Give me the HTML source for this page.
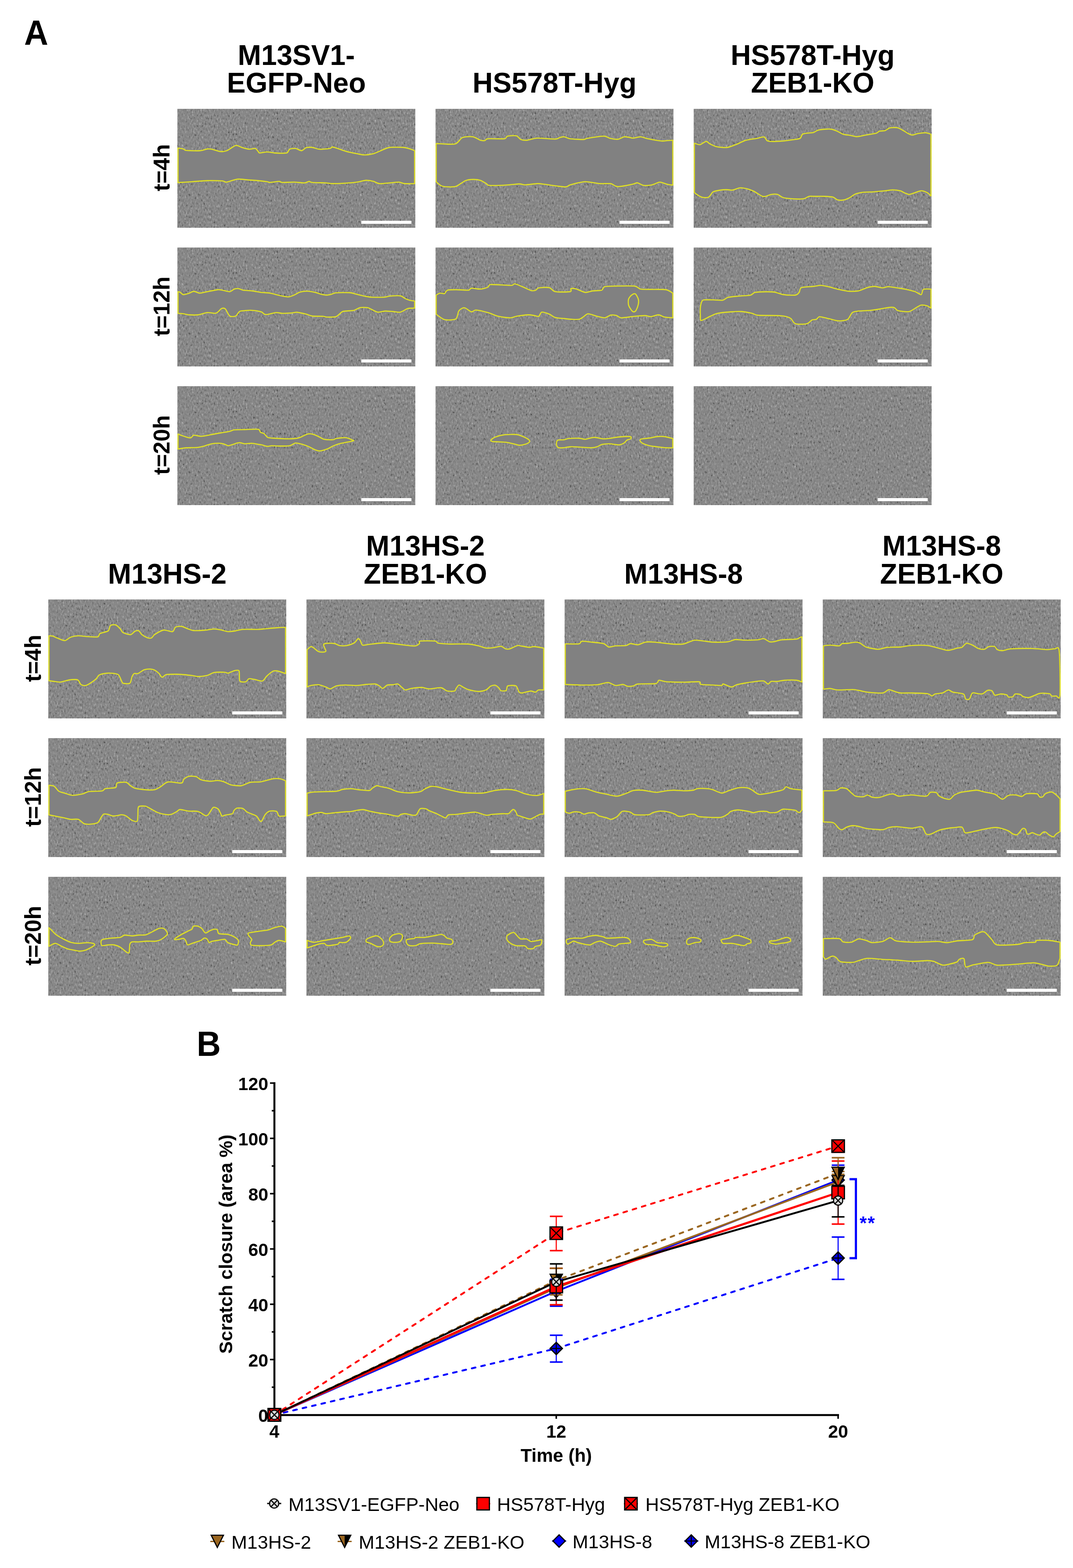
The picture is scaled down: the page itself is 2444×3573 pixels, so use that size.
<!DOCTYPE html>
<html><head><meta charset="utf-8"><title>Scratch assay</title>
<style>
html,body{margin:0;padding:0;background:#fff;}
body{width:2444px;height:3573px;overflow:hidden;}
svg{display:block;}
text{font-family:'Liberation Sans', Arial, Helvetica, sans-serif;}
</style></head><body>
<svg width="2444" height="3573" viewBox="0 0 2444 3573">
<defs>
<filter id="tex" x="0" y="0" width="1" height="1" filterUnits="objectBoundingBox" color-interpolation-filters="sRGB">
<feTurbulence type="fractalNoise" baseFrequency="0.3 0.16" numOctaves="3" seed="7" result="n"/>
<feComponentTransfer in="n" result="m">
<feFuncR type="table" tableValues="0.20 0.20 0.22 0.26 0.33 0.43 0.48 0.50 0.512 0.522 0.532 0.543 0.556 0.572 0.595 0.63 0.67 0.71 0.75 0.78 0.80"/>
<feFuncG type="table" tableValues="0.20 0.20 0.22 0.26 0.33 0.43 0.48 0.50 0.512 0.522 0.532 0.543 0.556 0.572 0.595 0.63 0.67 0.71 0.75 0.78 0.80"/>
<feFuncB type="table" tableValues="0.20 0.20 0.22 0.26 0.33 0.43 0.48 0.50 0.512 0.522 0.532 0.543 0.556 0.572 0.595 0.63 0.67 0.71 0.75 0.78 0.80"/>
<feFuncA type="table" tableValues="1 1"/>
</feComponentTransfer>
<feColorMatrix in="m" type="matrix" values="1 0 0 0 0  1 0 0 0 0  1 0 0 0 0  0 0 0 0 1"/>
</filter>
</defs>
<rect width="2444" height="3573" fill="#fff"/>

<text transform="translate(55,102) scale(1,1.045)" font-size="76" font-weight="bold">A</text>
<text transform="translate(448,2406) scale(1,1.045)" font-size="76" font-weight="bold">B</text>
<g transform="translate(404,248)">
<rect width="542" height="271" fill="#858585"/>
<rect width="542" height="271" fill="#858585" filter="url(#tex)"/>
<path d="M1.5,89.3C3.1,89.6 11.1,90.6 13.6,91.4C16.2,92.1 15.5,94.2 20.5,94.8C25.5,95.3 44.8,95.9 51.1,95.4C57.5,95 64.5,91.8 68.2,91.4C71.8,90.9 74.5,91.3 78.4,92C82.3,92.8 92.6,96.7 97.2,97.2C101.7,97.6 107.7,97.3 112.5,95.4C117.3,93.6 128.4,84.5 132.9,83.5C137.5,82.5 142.5,86.8 146.6,87.9C150.7,89.1 159.5,91.7 163.6,92C167.7,92.4 174.5,89.7 177.3,90.3C180,91 182.7,95.8 184.1,97.2C185.4,98.5 184.8,100.4 187.5,100.6C190.2,100.7 200,98.2 204.5,98.2C209.1,98.2 215.7,100.2 221.6,100.6C227.5,100.9 244.3,101.7 248.8,100.6C253.4,99.4 252.9,93.4 255.7,92C258.4,90.7 265.7,89.9 269.3,90.3C272.9,90.8 279.7,95.7 282.9,95.4C286.1,95.2 290,89.6 293.2,88.6C296.3,87.6 302.7,87.5 306.8,87.9C310.9,88.4 318.4,91.7 323.8,92C329.3,92.4 343.8,91 347.7,90.3C351.6,89.7 350.5,86.9 352.8,86.9C355.1,86.9 360.4,89 364.7,90.3C369.1,91.7 379.3,95.6 385.2,97.2C391.1,98.7 403.6,101.2 409.1,102.3C414.5,103.3 421.1,105 426.1,105C431.1,105 441.1,103.8 446.6,102.3C452,100.8 462,95.7 467,93.7C472,91.8 477.7,88.7 484.1,87.9C490.4,87.2 508.4,87.4 514.7,87.9C521.1,88.5 528.3,91 531.8,92C535.2,93 539.3,95 540.5,95.4L540.5,170.4C537.5,170.4 522.9,170.9 518.1,170.4C513.3,170 509,167.3 504.5,167C500,166.8 490,168.3 484.1,168.7C478.1,169.2 465.2,170.9 460.2,170.4C455.2,170 450.6,166.3 446.6,165.3C442.5,164.3 434.5,162.7 429.5,162.9C424.5,163.2 414.1,166.3 409.1,167C404.1,167.8 399.3,168.3 392,168.7C384.7,169.2 361.8,170.4 354.5,170.4C347.2,170.4 343.8,169.1 337.5,168.7C331.1,168.4 311.8,168.2 306.8,167.7C301.8,167.3 302.2,165.2 300,165.3C297.7,165.5 294.3,168.5 289.7,168.7C285.2,169 272.7,167.2 265.9,167C259.1,166.9 243.2,167.9 238.6,167.7C234.1,167.5 235.4,165.3 231.8,165.3C228.2,165.3 215,167.6 211.3,167.7C207.7,167.8 208.2,166.6 204.5,166C200.9,165.5 190,164.2 184.1,163.6C178.2,163.1 166.6,162.4 160.2,161.9C153.9,161.5 142.7,159.5 136.4,160.2C130,160.9 117,166.5 112.5,167C107.9,167.6 108.2,164.8 102.3,164.3C96.4,163.8 77.3,163.4 68.2,163.6C59.1,163.8 43,165.4 34.1,166C25.2,166.6 5.8,167.8 1.5,168.1L1.5,89.3Z" fill="#818181" stroke="#e0e024" stroke-width="2.6" stroke-linejoin="round"/>
<rect x="419" y="255" width="114" height="7" fill="#fff"/>
</g>
<g transform="translate(992,248)">
<rect width="542" height="271" fill="#858585"/>
<rect width="542" height="271" fill="#858585" filter="url(#tex)"/>
<path d="M1.5,79.1C7.2,79.2 36.3,81.9 44.3,80.1C52.3,78.3 55.9,67.6 61.4,65.4C66.8,63.3 79.8,62.9 85.2,63.7C90.7,64.6 98.6,70.4 102.3,71.6C105.9,72.7 110.2,72.7 112.5,72.3C114.8,71.8 113.4,68.7 119.3,68.2C125.2,67.6 150.9,68.9 156.8,68.2C162.7,67.4 160,63.3 163.6,62.4C167.3,61.5 180,60.4 184.1,61.4C188.2,62.4 191.1,68.5 194.3,69.9C197.5,71.2 202.9,72 207.9,71.6C212.9,71.2 223.2,67.2 231.8,66.8C240.4,66.4 265.9,69 272.7,68.9C279.5,68.7 280.2,66.1 282.9,65.4C285.7,64.8 290,63.4 293.2,63.7C296.3,64.1 300.9,67.4 306.8,68.2C312.7,69 332.5,70 337.5,69.9C342.5,69.8 340.2,68.3 344.3,67.5C348.4,66.7 362.7,64.4 368.2,63.7C373.6,63.1 381.1,61.9 385.2,62.4C389.3,62.9 394.7,66.6 398.8,67.5C402.9,68.4 411.8,69.7 415.9,69.2C420,68.7 426.3,64.3 429.5,63.7C432.7,63.2 437,64.4 439.7,64.8C442.5,65.2 446.3,66.9 450,66.8C453.6,66.7 462.5,63.6 467,63.7C471.6,63.9 477.7,66.9 484.1,68.2C490.4,69.4 508.8,72.7 514.7,73.3C520.6,73.8 524.9,72.5 528.4,72.3C531.8,72 538.9,71.7 540.5,71.6L540.5,173.8C538.9,173.6 532.3,173.1 528.4,172.1C524.5,171.2 515,167.3 511.3,167C507.7,166.8 503.8,169.5 501.1,170.4C498.4,171.3 494.5,173.3 490.9,173.8C487.2,174.4 477.9,175.2 473.8,174.5C469.7,173.8 463.4,169.1 460.2,168.7C457,168.3 454.1,170.6 450,171.5C445.9,172.4 434.1,174.8 429.5,175.6C425,176.3 418.6,177.3 415.9,177.3C413.1,177.3 411.3,176.5 409.1,175.6C406.8,174.6 403.4,171.1 398.8,170.4C394.3,169.8 381.3,170.9 375,170.4C368.6,170 356.1,167.6 351.1,167C346.1,166.5 343.4,165.5 337.5,166.3C331.6,167.2 312.2,171.6 306.8,173.2C301.3,174.7 302,177.8 296.6,177.9C291.1,178.1 272.7,175.4 265.9,174.5C259.1,173.7 250,172 245.4,171.5C240.9,170.9 237.3,170.2 231.8,170.4C226.3,170.7 210,173.1 204.5,173.2C199.1,173.3 196.8,171 190.9,171.1C185,171.2 169.3,173.4 160.2,173.8C151.1,174.3 128.6,175 122.7,174.5C116.8,174.1 118.6,172 115.9,170.4C113.2,168.9 106.4,164.2 102.3,162.9C98.2,161.7 89.8,160.8 85.2,160.9C80.7,161 73.2,161.6 68.2,163.6C63.2,165.7 52.7,174.3 47.7,176.2C42.7,178.1 35.2,178 30.7,177.9C26.1,177.8 17.5,177.1 13.6,175.6C9.7,174 3.1,167.6 1.5,166.3L1.5,79.1Z" fill="#818181" stroke="#e0e024" stroke-width="2.6" stroke-linejoin="round"/>
<rect x="419" y="255" width="114" height="7" fill="#fff"/>
</g>
<g transform="translate(1580,248)">
<rect width="542" height="271" fill="#858585"/>
<rect width="542" height="271" fill="#858585" filter="url(#tex)"/>
<path d="M1.5,78.4C3.1,78.9 11.1,81.8 13.6,81.8C16.2,81.8 18.4,79.4 20.5,78.4C22.5,77.4 26.7,74.1 29,74.3C31.2,74.5 34.5,78.6 37.5,80.1C40.5,81.7 47.5,84.9 51.1,85.9C54.8,86.9 61.1,87.7 64.8,87.9C68.4,88.2 74.3,88.4 78.4,87.6C82.5,86.8 90,83.9 95.4,81.8C100.9,79.7 112.9,73.5 119.3,71.6C125.7,69.7 137.7,68.5 143.2,67.5C148.6,66.5 157,63.4 160.2,64.1C163.4,64.7 164.8,70.9 167,72.3C169.3,73.6 172.3,74.2 177.3,74.3C182.3,74.4 198.6,73.7 204.5,73.3C210.4,72.8 216.6,71.7 221.6,70.9C226.6,70.1 238.4,69.3 242,67.5C245.7,65.7 244.8,59.1 248.8,57.3C252.9,55.4 268.2,55 272.7,53.9C277.2,52.7 279.3,49.7 282.9,48.7C286.6,47.7 295.9,46.7 300,46.4C304.1,46 310,45.7 313.6,46.4C317.2,47 323.6,49.6 327.2,51.1C330.9,52.7 336.8,56.7 340.9,57.9C345,59.2 353.8,59.9 357.9,60.7C362,61.4 367,63.5 371.6,63.4C376.1,63.3 386.1,60.7 392,59.7C397.9,58.6 411.8,56.7 415.9,55.6C420,54.4 420,52 422.7,51.1C425.4,50.3 433.1,50.4 436.3,49.4C439.5,48.4 442.9,44.5 446.6,43.6C450.2,42.8 459.5,42.2 463.6,43C467.7,43.7 474.1,47.7 477.2,49.4C480.4,51.1 484.7,54.2 487.5,55.6C490.2,56.9 494.5,59.6 497.7,59.7C500.9,59.7 507.2,56.9 511.3,56.2C515.4,55.6 524.5,54.3 528.4,54.5C532.3,54.8 538.9,57.5 540.5,57.9L540.5,198.4C539.3,197.4 534.8,192.4 531.8,190.9C528.8,189.3 521.8,186.8 518.1,186.8C514.5,186.8 508.1,189.8 504.5,190.9C500.9,192 494,194.9 490.9,195C487.7,195.1 483.4,192.7 480.6,191.6C477.9,190.5 474.1,187.7 470.4,186.8C466.8,185.9 457.9,184.8 453.4,184.8C448.8,184.8 442.2,186.2 436.3,186.8C430.4,187.4 415.9,188.7 409.1,189.2C402.2,189.6 390.6,189.5 385.2,190.2C379.7,190.9 372.2,192.6 368.2,194.3C364.1,196 358.2,201 354.5,202.8C350.9,204.6 344.5,207.3 340.9,207.9C337.2,208.5 330.4,208.2 327.2,207.3C324.1,206.3 321.1,202.2 317,201.1C312.9,200.1 302,199.6 296.6,199.4C291.1,199.2 280.7,199.4 276.1,199.4C271.6,199.4 265.7,198.7 262.5,199.4C259.3,200.1 255.4,203.7 252.3,204.5C249.1,205.3 244.1,205.6 238.6,205.6C233.2,205.5 216.3,204.4 211.3,203.8C206.3,203.3 203.8,202.3 201.1,201.1C198.4,199.9 194.1,195.8 190.9,195C187.7,194.2 180.9,194.4 177.3,195C173.6,195.6 166.3,198.8 163.6,199.4C160.9,200 159.1,200.2 156.8,199.4C154.5,198.6 149.3,195.2 146.6,193.6C143.9,192 139.5,189 136.4,187.5C133.2,186 126.8,183.4 122.7,182.4C118.6,181.4 110.2,179.6 105.7,180C101.1,180.3 92.7,184.6 88.6,185.1C84.5,185.6 78.6,184.1 75,184.1C71.4,184.1 65.4,184.4 61.4,185.1C57.3,185.8 48,187.1 44.3,189.2C40.7,191.3 37.3,199.4 34.1,201.1C30.9,202.8 23.6,202.3 20.5,201.8C17.3,201.3 12.8,198.5 10.2,197C7.7,195.6 2.7,191.7 1.5,190.9L1.5,78.4Z" fill="#818181" stroke="#e0e024" stroke-width="2.6" stroke-linejoin="round"/>
<rect x="419" y="255" width="114" height="7" fill="#fff"/>
</g>
<g transform="translate(404,564)">
<rect width="542" height="271" fill="#858585"/>
<rect width="542" height="271" fill="#858585" filter="url(#tex)"/>
<path d="M1.5,100.6C2.2,100.8 5.2,101.4 6.8,102.3C8.4,103.2 10.9,107.2 13.6,107.4C16.4,107.6 24.1,105 27.3,104C30.5,103 34.3,99.9 37.5,99.9C40.7,99.9 47,103.9 51.1,104C55.2,104.1 62.7,101.6 68.2,100.6C73.6,99.5 87.5,96.6 92,96.1C96.6,95.7 98.6,96.6 102.3,97.2C105.9,97.7 115.7,100.9 119.3,100.6C122.9,100.2 126.8,95.7 129.5,94.8C132.3,93.9 137,93.4 139.8,93.7C142.5,94.1 145.9,96.5 150,97.2C154.1,97.8 165,98.2 170.4,98.9C175.9,99.5 185.4,101.6 190.9,102.3C196.3,102.9 205.9,103.1 211.3,104C216.8,104.9 226.3,107.9 231.8,109.1C237.3,110.2 247.7,112.6 252.3,112.5C256.8,112.4 262.3,109.9 265.9,108.4C269.5,106.9 275.4,102.8 279.5,101.6C283.6,100.4 292,99.4 296.6,99.5C301.1,99.6 309.5,101.4 313.6,102.3C317.7,103.2 323.6,105.5 327.2,106.4C330.9,107.2 337.7,108.4 340.9,108.4C344.1,108.4 348.4,107 351.1,106.4C353.8,105.7 355.9,103.7 361.3,103.3C366.8,102.8 385.6,102.5 392,102.9C398.4,103.4 404.5,105.7 409.1,106.7C413.6,107.7 421.6,109.9 426.1,110.8C430.6,111.6 437.2,112.9 443.1,113.2C449.1,113.5 465,113.5 470.4,113.2C475.9,112.9 479.1,111.2 484.1,110.8C489,110.4 503.4,109.4 507.9,110.1C512.5,110.8 515.4,114.6 518.1,115.9C520.9,117.2 525.4,119.2 528.4,120C531.3,120.8 538.9,121.8 540.5,122L540.5,138.1C538.4,138.2 529.3,137.9 525,139.1C520.6,140.3 512.5,146.4 507.9,147.3C503.4,148.2 495.4,146.2 490.9,145.9C486.3,145.6 478.4,144.7 473.8,144.9C469.3,145.1 460.9,147.7 456.8,147.3C452.7,146.8 446.3,142.8 443.1,141.5C440,140.1 436.6,137.6 432.9,137C429.3,136.4 420,136.2 415.9,137C411.8,137.9 406.8,142.1 402.2,143.2C397.7,144.2 385.4,144.4 381.8,144.9C378.2,145.3 377.7,144.9 375,146.6C372.2,148.3 365.9,155.9 361.3,157.5C356.8,159.1 345,158.6 340.9,158.5C336.8,158.4 335.2,157.1 330.7,156.8C326.1,156.5 311.8,156.8 306.8,156.1C301.8,155.4 297.7,152.8 293.2,151.7C288.6,150.6 277.2,147.9 272.7,147.6C268.2,147.3 263.6,149 259.1,149.3C254.5,149.6 243.2,150.1 238.6,150C234.1,149.9 229.5,147.9 225,148.3C220.4,148.6 208.2,152.3 204.5,152.7C200.9,153.2 199.5,152.5 197.7,151.7C195.9,150.9 194.5,147.7 190.9,146.6C187.3,145.4 175.4,143.5 170.4,143.2C165.4,142.8 157.3,143.5 153.4,143.9C149.5,144.2 144.2,144.3 141.5,145.9C138.7,147.5 135.9,154.8 132.9,156.1C130,157.5 122.5,158.3 119.3,156.1C116.1,153.9 111.6,142 109.1,139.8C106.6,137.5 102.8,138.1 100.6,139.1C98.3,140.1 94.1,145.8 92,147.3C90,148.7 88.4,149.9 85.2,150C82,150.1 73.2,147.8 68.2,148.3C63.2,148.7 53.2,152.7 47.7,153.4C42.3,154.1 31.8,153.7 27.3,153.4C22.7,153.1 17.1,151.5 13.6,151C10.2,150.6 3.1,150.1 1.5,150L1.5,100.6Z" fill="#818181" stroke="#e0e024" stroke-width="2.6" stroke-linejoin="round"/>
<rect x="419" y="255" width="114" height="7" fill="#fff"/>
</g>
<g transform="translate(992,564)">
<rect width="542" height="271" fill="#858585"/>
<rect width="542" height="271" fill="#858585" filter="url(#tex)"/>
<path d="M1.5,108.4C2.7,107.8 7.7,104.4 10.2,104C12.8,103.5 18.2,105.9 20.5,105C22.7,104.1 23.6,98.3 27.3,97.2C30.9,96 41.4,96.1 47.7,96.1C54.1,96.1 70.4,97.6 75,97.2C79.5,96.7 78.2,93 81.8,92.7C85.4,92.4 97.3,95.1 102.3,94.8C107.3,94.4 116.4,91.7 119.3,90.3C122.3,89 120.3,85.2 124.4,84.5C128.5,83.9 143.4,85 150,85.2C156.6,85.4 169.8,86.6 173.8,86.2C177.9,85.9 177.5,82.4 180.7,82.8C183.8,83.2 192.7,87.3 197.7,89.3C202.7,91.4 214.1,97.1 218.2,98.2C222.3,99.2 226.1,98 228.4,97.2C230.7,96.3 231.1,92.8 235.2,92C239.3,91.3 254.1,90.2 259.1,91.4C264.1,92.5 266.3,99.3 272.7,100.6C279.1,101.8 302,101.5 306.8,100.6C311.6,99.7 306.7,94.6 308.5,93.7C310.3,92.9 316.1,93.3 320.4,94.4C324.7,95.6 335.9,101.7 340.9,102.3C345.9,102.9 352.9,99.5 357.9,98.9C362.9,98.2 374.7,98.4 378.4,97.2C382,95.9 381.1,90.5 385.2,89.3C389.3,88.1 400,88.1 409.1,87.9C418.1,87.8 445.6,87 453.4,87.9C461.1,88.9 462,93.8 467,94.8C472,95.8 483.1,95.3 490.9,95.4C498.6,95.6 518.3,95 525,96.1C531.6,97.3 538.4,102.9 540.5,104L540.5,160.2C538,160 525.9,159.4 521.5,158.5C517.2,157.6 512,153.5 507.9,153.4C503.8,153.3 495,157.3 490.9,157.5C486.8,157.7 482.2,155.2 477.2,155.1C472.2,155 460.6,156.1 453.4,156.8C446.1,157.5 428.1,160.4 422.7,160.2C417.2,160 415.6,155.9 412.5,155.1C409.3,154.3 402.5,153.4 398.8,154.1C395.2,154.8 389.3,159.9 385.2,160.2C381.1,160.6 373.2,158 368.2,156.8C363.2,155.6 351.8,150.9 347.7,151C343.6,151.1 340.2,155.8 337.5,157.5C334.7,159.2 330.9,162.8 327.2,163.6C323.6,164.4 314.7,163.8 310.2,163.6C305.7,163.4 298.2,162.5 293.2,161.9C288.2,161.4 277.2,160.9 272.7,159.5C268.2,158.2 263.2,153.3 259.1,151.7C255,150.1 245.2,146.6 242,147.3C238.8,147.9 237.5,155.8 235.2,156.8C232.9,157.9 228.2,155.6 225,155.1C221.8,154.6 216.8,153.2 211.3,153.4C205.9,153.6 189.5,155.9 184.1,156.8C178.6,157.7 175.9,160.2 170.4,160.2C165,160.2 150,158.4 143.2,156.8C136.4,155.2 126.1,150.2 119.3,148.3C112.5,146.4 97,142.7 92,142.5C87,142.3 85,147.2 81.8,146.6C78.6,146 70.9,139.2 68.2,138.1C65.4,136.9 63.4,137.1 61.4,138.1C59.3,139 54.9,141.6 52.8,144.9C50.8,148.2 50.3,160.4 46,162.9C41.7,165.5 26.4,165.8 20.5,164.3C14.5,162.8 4,153.7 1.5,152L1.5,108.4Z" fill="#818181" stroke="#e0e024" stroke-width="2.6" stroke-linejoin="round"/>
<path d="M446.6,108.4C448.6,106.8 453,104.4 455.1,105.7C457.1,106.9 461,114.4 461.9,117.6C462.8,120.8 462.6,126.1 461.9,129.5C461.2,132.9 458.1,140.9 456.8,143.2C455.4,145.4 453,146.6 451.7,146.6C450.3,146.6 448.1,145.2 446.6,143.2C445,141.1 440.6,134.6 439.7,131.2C438.8,127.8 438.8,120.6 439.7,117.6C440.6,114.6 444.5,110 446.6,108.4Z" fill="#818181" stroke="#e0e024" stroke-width="2.6" stroke-linejoin="round"/>
<rect x="419" y="255" width="114" height="7" fill="#fff"/>
</g>
<g transform="translate(1580,564)">
<rect width="542" height="271" fill="#858585"/>
<rect width="542" height="271" fill="#858585" filter="url(#tex)"/>
<path d="M18.7,122.7C19.9,120.4 20.5,119.8 23.9,119.3C27.3,118.9 38.6,119.2 44.3,119.3C50,119.4 61.9,120.8 66.5,120C71,119.2 73.6,114.7 78.4,113.5C83.2,112.3 95.4,111.5 102.3,110.8C109.1,110.1 124.5,109.5 129.5,108.4C134.5,107.3 135.2,103.3 139.8,102.3C144.3,101.3 157.7,101 163.6,100.9C169.5,100.8 178.6,100.7 184.1,101.6C189.5,102.4 198.2,106.5 204.5,107.4C210.9,108.3 227,109.1 231.8,108.4C236.6,107.7 238.5,104.5 240.3,102.3C242.1,100 241.1,93.2 245.4,91.4C249.8,89.5 266.8,89.3 272.7,88.6C278.6,87.9 285.2,86.2 289.7,86.2C294.3,86.3 301.8,88.2 306.8,89.3C311.8,90.4 321.3,93.4 327.2,94.8C333.2,96.1 344.7,99 351.1,99.5C357.5,100.1 369.1,99.9 375,98.9C380.9,97.8 390.4,92.7 395.4,91.4C400.4,90 407.9,88.5 412.5,88.6C417,88.7 425.4,91.9 429.5,92C433.6,92.1 438.6,89.3 443.1,89.3C447.7,89.3 458.1,91.2 463.6,92C469.1,92.9 478.6,94.3 484.1,95.4C489.5,96.6 500,99 504.5,100.6C509,102.2 515.6,108.1 518.1,107.4C520.6,106.7 520.3,97.1 523.3,95.4C526.2,93.8 538.2,94.9 540.5,94.8L540.5,138.1C539.3,137.4 534.8,133.9 531.8,132.9C528.8,132 521.3,130.8 518.1,131.2C515,131.7 511.5,134.4 507.9,136.4C504.3,138.3 495.9,144.8 490.9,145.9C485.9,147 474.1,145.2 470.4,144.9C466.8,144.5 465.4,144.2 463.6,143.2C461.8,142.1 459.1,137.9 456.8,137C454.5,136.1 451.1,135.9 446.6,136.4C442,136.8 428.6,139.5 422.7,140.4C416.8,141.4 408.6,142.6 402.2,143.2C395.9,143.8 380.4,144.2 375,144.9C369.5,145.6 364.5,145.8 361.3,148.3C358.2,150.8 354.3,161.1 351.1,163.6C347.9,166.1 341.1,166.7 337.5,167C333.8,167.4 328.8,167.3 323.8,166.3C318.8,165.4 305,161.4 300,160.2C295,159.1 289.1,157.4 286.3,157.8C283.6,158.3 281.8,162.6 279.5,163.6C277.2,164.6 272.2,164 269.3,165.3C266.3,166.7 262.4,172.7 257.4,173.8C252.4,175 236.6,175.4 231.8,173.8C227,172.3 224.3,164.1 221.6,161.9C218.8,159.7 215.4,158.4 211.3,157.5C207.3,156.6 199.5,155.5 190.9,155.1C182.3,154.7 154.3,155.1 146.6,154.4C138.9,153.7 137.9,151.1 132.9,150C127.9,148.9 115.4,146.4 109.1,145.9C102.7,145.4 92.5,146 85.2,146.6C77.9,147.1 60.9,148.6 54.5,150C48.2,151.4 42.5,154.6 37.5,156.8C32.5,159 20,166.3 17,166.3C14.1,166.3 15.6,160.8 15.3,156.8C15.1,152.8 14.9,140.9 15.3,136.4C15.8,131.8 17.6,125 18.7,122.7Z" fill="#818181" stroke="#e0e024" stroke-width="2.6" stroke-linejoin="round"/>
<rect x="419" y="255" width="114" height="7" fill="#fff"/>
</g>
<g transform="translate(404,880)">
<rect width="542" height="271" fill="#858585"/>
<rect width="542" height="271" fill="#858585" filter="url(#tex)"/>
<path d="M1.5,109.1C2.7,109.5 7.7,111.6 10.2,112.5C12.8,113.4 17.7,115.2 20.5,115.9C23.2,116.6 28.4,118.1 30.7,117.6C33,117.1 34.3,112.3 37.5,111.8C40.7,111.4 49.5,114.3 54.5,114.2C59.5,114.1 69.1,111.8 75,110.8C80.9,109.7 92.9,107.4 98.9,106.4C104.8,105.3 115.2,103.9 119.3,102.9C123.4,102 125,100.1 129.5,99.5C134.1,99 146.1,99 153.4,98.9C160.7,98.7 179.3,97.4 184.1,98.2C188.8,99 187.4,103.6 189.2,105C191,106.4 195.4,106.8 197.7,108.4C200,110 203.1,115.6 206.2,116.9C209.4,118.3 215.4,118.2 221.6,118.6C227.7,119 245.4,120 252.3,120C259.1,120 268.6,119.3 272.7,118.6C276.8,118 279.7,116.5 282.9,115.2C286.1,113.9 293.4,109.9 296.6,109.1C299.7,108.3 303.6,108.4 306.8,109.1C310,109.8 316.8,112.6 320.4,114.2C324.1,115.8 329.5,120 334.1,121C338.6,122.1 350.9,122.3 354.5,122C358.2,121.8 358.6,119.9 361.3,119.3C364.1,118.7 371.8,117.8 375,117.6C378.2,117.4 381.8,116.8 385.2,117.6C388.6,118.4 398.5,122.5 400.5,123.4C402.6,124.3 402.6,123.8 400.5,124.4C398.5,125 389.5,126.9 385.2,127.8C380.9,128.7 372.2,130.1 368.2,131.2C364.1,132.4 358.2,134.8 354.5,136.4C350.9,137.9 345,141.7 340.9,143.2C336.8,144.7 327.5,147.4 323.8,147.6C320.2,147.8 316.8,146.1 313.6,144.9C310.4,143.6 303.6,139.6 300,138.1C296.3,136.5 290.4,134.1 286.3,132.9C282.2,131.8 273.4,129.2 269.3,129.5C265.2,129.9 260.7,134.8 255.7,135.7C250.7,136.6 237.3,136.4 231.8,136.4C226.3,136.4 218.4,135.6 214.8,135.7C211.1,135.8 207.7,137.3 204.5,137C201.3,136.8 195.4,134.5 190.9,133.6C186.3,132.7 175.4,130.5 170.4,130.2C165.4,129.9 157,131.4 153.4,131.2C149.8,131.1 145.4,129.1 143.2,128.9C140.9,128.6 138.6,129 136.4,129.5C134.1,130.1 128.9,132.1 126.1,132.9C123.4,133.8 118.2,135.7 115.9,135.7C113.6,135.7 111.4,133.7 109.1,132.9C106.8,132.2 102.9,130.4 98.9,130.2C94.8,130 83.4,130.4 78.4,131.2C73.4,132.1 65.9,135.2 61.4,136.4C56.8,137.5 49.8,139.2 44.3,139.8C38.9,140.3 26.2,140 20.5,140.4C14.7,140.9 4,142.8 1.5,143.2L1.5,109.1Z" fill="#818181" stroke="#e0e024" stroke-width="2.6" stroke-linejoin="round"/>
<rect x="419" y="255" width="114" height="7" fill="#fff"/>
</g>
<g transform="translate(992,880)">
<rect width="542" height="271" fill="#858585"/>
<rect width="542" height="271" fill="#858585" filter="url(#tex)"/>
<path d="M126.1,122.7C127,121.4 132.3,117.5 136.4,115.9C140.4,114.3 150.4,111.6 156.8,110.8C163.2,110 178.6,109.6 184.1,110.1C189.5,110.6 194.1,112.7 197.7,114.2C201.3,115.6 209.2,119.3 211.3,121C213.5,122.7 215,125.3 214.1,126.8C213.2,128.3 207.6,131.2 204.5,132.3C201.4,133.3 194.5,134.8 190.9,134.6C187.3,134.5 181.3,132.1 177.3,131.2C173.2,130.3 164.8,128.4 160.2,127.8C155.7,127.2 147.3,127 143.2,126.8C139.1,126.6 131.8,126.7 129.5,126.1C127.3,125.6 125.2,124.1 126.1,122.7Z" fill="#818181" stroke="#e0e024" stroke-width="2.6" stroke-linejoin="round"/>
<path d="M277.8,123.4C280.2,121.9 289.7,122.6 293.2,122C296.6,121.5 298.8,119.8 303.4,119.3C307.9,118.9 322.2,118.4 327.2,118.6C332.2,118.9 336.3,121.3 340.9,121C345.4,120.7 355.9,116.7 361.3,116.6C366.8,116.4 376.8,119.7 381.8,120C386.8,120.3 394.3,119.2 398.8,118.6C403.4,118.1 410,116.4 415.9,115.9C421.8,115.4 439.3,114.3 443.1,114.9C447,115.4 445.8,118.9 444.8,120C443.9,121 438.4,121.4 436.3,122.7C434.3,124 431.8,128.1 429.5,129.5C427.2,131 422,133.2 419.3,133.6C416.6,134.1 412.2,133.3 409.1,132.9C405.9,132.6 399.5,131.2 395.4,131.2C391.3,131.2 382,132 378.4,132.9C374.7,133.9 371.3,137.1 368.2,138.1C365,139.1 360,140.4 354.5,140.4C349.1,140.5 333.6,139.1 327.2,138.7C320.9,138.4 311.8,137.8 306.8,138.1C301.8,138.3 293.4,140.2 289.7,140.4C286.1,140.7 281.4,140.8 279.5,139.8C277.6,138.8 275.7,135.1 275.4,132.9C275.2,130.8 275.5,124.9 277.8,123.4Z" fill="#818181" stroke="#e0e024" stroke-width="2.6" stroke-linejoin="round"/>
<path d="M467,121C468.5,120.2 474.1,119.8 477.2,119.3C480.4,118.9 487.2,118.2 490.9,117.6C494.5,117 500.4,115.2 504.5,114.9C508.6,114.5 516.7,114.3 521.5,114.9C526.3,115.5 538,118.7 540.5,119.3L540.5,140.4C538.4,140.4 529.8,140.8 525,140.4C520.2,140.1 509.5,138.7 504.5,138.1C499.5,137.4 491.5,136.6 487.5,135.7C483.4,134.8 476.6,132.6 473.8,131.2C471,129.9 467.2,126.8 466.3,125.4C465.4,124.1 465.6,121.8 467,121Z" fill="#818181" stroke="#e0e024" stroke-width="2.6" stroke-linejoin="round"/>
<rect x="419" y="255" width="114" height="7" fill="#fff"/>
</g>
<g transform="translate(1580,880)">
<rect width="542" height="271" fill="#858585"/>
<rect width="542" height="271" fill="#858585" filter="url(#tex)"/>
<rect x="419" y="255" width="114" height="7" fill="#fff"/>
</g>
<g transform="translate(110,1366)">
<rect width="542" height="271" fill="#858585"/>
<rect width="542" height="271" fill="#858585" filter="url(#tex)"/>
<path d="M1.5,82.8C2.7,82.9 7.7,82.8 10.2,83.5C12.8,84.2 16.8,86.6 20.5,87.9C24.1,89.3 33.4,94 37.5,93.7C41.6,93.5 47,87.4 51.1,85.9C55.2,84.4 63.2,83 68.2,82.8C73.2,82.7 82.7,84.2 88.6,84.5C94.5,84.9 108.6,86.1 112.5,85.2C116.4,84.3 114.4,79.5 117.6,77.7C120.8,75.9 133.2,74 136.4,71.6C139.5,69.2 139.2,61.5 141.5,59.7C143.7,57.8 150.4,57 153.4,57.9C156.4,58.9 161.4,64.1 163.6,66.5C165.9,68.8 167.3,73.9 170.4,75.7C173.6,77.5 183.8,80.6 187.5,80.1C191.1,79.7 195.2,73.4 197.7,72.3C200.2,71.1 204.2,70.5 206.2,71.6C208.3,72.6 210.6,78.1 213.1,80.1C215.6,82.2 222,85.9 225,86.9C227.9,87.9 232.9,88.5 235.2,87.6C237.5,86.7 238.4,82.5 242,80.1C245.7,77.7 257,70.8 262.5,69.9C267.9,69 279.3,74.2 282.9,73.3C286.6,72.4 287,64.7 289.7,63.1C292.5,61.5 299.7,60.9 303.4,61.4C307,61.8 313.4,65.2 317,66.5C320.7,67.7 325.2,70.4 330.7,70.9C336.1,71.4 351.6,70.4 357.9,69.9C364.3,69.4 373.4,67.2 378.4,67.2C383.4,67.2 391.3,69.1 395.4,69.9C399.5,70.7 405,73.1 409.1,73.3C413.1,73.5 421.6,72.3 426.1,71.6C430.6,70.9 436.3,68.6 443.1,68.2C450,67.7 470,68.4 477.2,68.2C484.5,67.9 491.3,67 497.7,66.5C504,65.9 519.2,64.4 525,64.1C530.7,63.7 538.4,63.8 540.5,63.7L540.5,168.7C538,168 525.4,163.6 521.5,162.9C517.7,162.3 514.5,162.1 511.3,163.6C508.1,165.2 500.9,171.6 497.7,174.5C494.5,177.5 491.1,184.7 487.5,185.8C483.8,186.8 474.5,183.1 470.4,182.4C466.3,181.7 459.5,180 456.8,180.7C454.1,181.3 452.7,186.8 450,187.5C447.2,188.2 438.4,189.1 436.3,185.8C434.3,182.5 436,166.1 434.6,162.9C433.3,159.8 428.6,161.6 426.1,161.9C423.6,162.2 418.1,164.5 415.9,165.3C413.6,166.1 410.9,168 409.1,168.1C407.2,168.1 406.3,166.2 402.2,166C398.1,165.8 383.8,165.4 378.4,166.3C372.9,167.3 366.3,171.9 361.3,173.2C356.3,174.4 345.4,175.6 340.9,175.6C336.3,175.6 331.8,173.8 327.2,173.2C322.7,172.6 311.3,171.5 306.8,171.1C302.2,170.8 298.2,170.4 293.2,170.4C288.2,170.4 273.8,170.2 269.3,171.1C264.8,172 261.3,177.6 259.1,177.3C256.8,176.9 254.5,170.9 252.3,168.7C250,166.6 244.8,162.3 242,160.9C239.3,159.5 235,158.6 231.8,158.5C228.6,158.4 221.8,158.9 218.2,160.2C214.5,161.6 207.5,167.6 204.5,168.7C201.6,169.9 197.8,167.8 196,168.7C194.2,169.6 192.3,172.6 190.9,175.6C189.5,178.5 188.5,188.8 185.8,190.9C183.1,192.9 172.9,191.6 170.4,190.9C167.9,190.2 168.4,188.3 167,185.8C165.7,183.3 162.5,174.4 160.2,172.1C157.9,169.9 153.6,169.3 150,168.7C146.4,168.2 137.5,167.6 132.9,168.1C128.4,168.5 119.1,170.5 115.9,172.1C112.7,173.8 111.8,178.2 109.1,180.7C106.4,183.2 98.6,188.8 95.4,190.9C92.3,192.9 87.9,195.6 85.2,196C82.5,196.5 77.3,195.9 75,194.3C72.7,192.7 70,185.7 68.2,184.1C66.4,182.5 64.1,182.5 61.4,182.4C58.6,182.3 52.3,182.6 47.7,183.4C43.2,184.2 31.8,187.7 27.3,188.2C22.7,188.6 17.1,187.2 13.6,186.8C10.2,186.4 3.1,185.3 1.5,185.1L1.5,82.8Z" fill="#818181" stroke="#e0e024" stroke-width="2.6" stroke-linejoin="round"/>
<rect x="419" y="255" width="114" height="7" fill="#fff"/>
</g>
<g transform="translate(698,1366)">
<rect width="542" height="271" fill="#858585"/>
<rect width="542" height="271" fill="#858585" filter="url(#tex)"/>
<path d="M1.5,114.2C2.7,113.3 8.2,107.8 10.2,107.4C12.3,106.9 14.8,109.3 17,110.8C19.3,112.3 24.5,117.4 27.3,118.6C30,119.9 35.2,120.1 37.5,120C39.8,119.9 43.9,119.1 44.3,117.6C44.8,116.1 41.6,111.1 40.9,109.1C40.2,107 38.3,103.5 39.2,102.3C40.1,101 44.3,100.1 47.7,99.9C51.1,99.7 61.1,99.9 64.8,100.6C68.4,101.2 71.4,104.4 75,105C78.6,105.6 87.5,105.8 92,105C96.6,104.2 105.7,100.9 109.1,98.9C112.5,96.8 115.8,90 117.6,89.3C119.4,88.6 121.4,91.8 122.7,93.7C124.1,95.7 125.1,102.8 127.8,104C130.6,105.1 136.6,102.9 143.2,102.3C149.8,101.6 169.1,98.9 177.3,98.9C185.4,98.8 196.3,100.7 204.5,101.6C212.7,102.5 232.7,105.1 238.6,105.7C244.5,106.2 246.3,106.4 248.8,105.7C251.3,105 256,102 257.4,100.6C258.7,99.1 254.3,95.5 259.1,94.8C263.8,94 287.7,94.1 293.2,94.8C298.6,95.4 295.4,98.6 300,99.5C304.5,100.4 318.2,101.3 327.2,101.6C336.3,101.9 359.5,101 368.2,101.6C376.8,102.1 386.6,104.4 392,105.7C397.5,106.9 404.5,110.2 409.1,110.8C413.6,111.3 421.6,110.3 426.1,109.8C430.6,109.2 439.5,106.3 443.1,106.7C446.8,107.1 450.6,111.7 453.4,112.5C456.1,113.3 460,113.5 463.6,112.5C467.2,111.5 477,105.8 480.6,105C484.3,104.2 487.2,105.8 490.9,106.4C494.5,106.9 504.3,108.9 507.9,109.1C511.5,109.2 513.8,107.2 518.1,107.4C522.5,107.6 537.5,110.3 540.5,110.8L540.5,206.2C538.9,206.2 530.9,205.6 528.4,206.2C525.8,206.9 523.8,211 521.5,211.3C519.3,211.7 515.4,208.4 511.3,208.6C507.2,208.8 494.5,212.8 490.9,213.1C487.2,213.3 485.9,212.8 484.1,210.7C482.2,208.5 480.6,198.8 477.2,197C473.8,195.2 461.4,195.7 458.5,197C455.5,198.4 457.1,205.8 455.1,207.3C453,208.7 445.4,208.8 443.1,207.9C440.9,207.1 439.8,202.8 438,201.1C436.2,199.4 432,195.8 429.5,195.3C427,194.9 422,196.3 419.3,197.7C416.6,199.2 412.7,204.6 409.1,206.2C405.4,207.8 397.5,209.8 392,209.6C386.6,209.5 372.7,206.4 368.2,205.2C363.6,204 360.7,201.8 357.9,200.4C355.2,199.1 350,194.7 347.7,195C345.4,195.3 342.2,201 340.9,202.8C339.5,204.6 340.2,207.8 337.5,208.6C334.7,209.4 324.5,209.6 320.4,208.6C316.3,207.6 312.2,201.8 306.8,201.1C301.3,200.5 285.4,203.9 279.5,203.8C273.6,203.8 267.9,200.6 262.5,200.4C257,200.3 243.6,202.1 238.6,202.8C233.6,203.6 227.7,206.5 225,206.2C222.3,206 220.4,202.9 218.2,201.1C215.9,199.3 210.7,193.5 207.9,192.6C205.2,191.7 200.9,194 197.7,194.3C194.5,194.6 187.3,193.8 184.1,195C180.9,196.1 176.1,202.5 173.8,202.8C171.6,203.2 169.3,199.1 167,197.7C164.8,196.3 160.9,193.1 156.8,192.6C152.7,192.1 141.8,193.2 136.4,193.6C130.9,194.1 122.3,195.8 115.9,196C109.5,196.2 95,194.8 88.6,195C82.3,195.1 72.7,195.8 68.2,197C63.6,198.2 57.7,203.5 54.5,203.8C51.4,204.2 48,200.7 44.3,199.4C40.7,198.1 31.8,194.8 27.3,194.3C22.7,193.8 13.7,195.3 10.2,196C6.8,196.7 2.7,199 1.5,199.4L1.5,114.2Z" fill="#818181" stroke="#e0e024" stroke-width="2.6" stroke-linejoin="round"/>
<rect x="419" y="255" width="114" height="7" fill="#fff"/>
</g>
<g transform="translate(1286,1366)">
<rect width="542" height="271" fill="#858585"/>
<rect width="542" height="271" fill="#858585" filter="url(#tex)"/>
<path d="M1.5,101.2C5.6,101.2 27.4,102 32.4,101.2C37.4,100.5 35.3,96 39.2,95.4C43.1,94.9 54.8,96.5 61.4,97.2C67.9,97.8 83.4,99.1 88.6,100.6C93.9,102.1 96.9,107.7 100.6,108.4C104.2,109.1 110.7,106.1 115.9,105.7C121.1,105.2 135.2,105.7 139.8,105C144.3,104.3 146.4,100.8 150,100.6C153.6,100.3 162.5,103.7 167,103.3C171.6,102.8 179.1,98 184.1,97.2C189.1,96.3 196.3,96.6 204.5,97.2C212.7,97.7 236.8,101 245.4,101.6C254.1,102.2 264.3,102.2 269.3,101.6C274.3,101 279.3,98.3 282.9,97.2C286.6,96 292,93 296.6,92.7C301.1,92.4 311.6,94.2 317,94.8C322.5,95.4 330.2,96.9 337.5,97.2C344.7,97.4 364.7,97.2 371.6,96.5C378.4,95.7 383.6,91.9 388.6,91.4C393.6,90.9 402.2,92.6 409.1,92.7C415.9,92.8 433.8,92.5 439.7,92C445.6,91.6 449.7,88.7 453.4,89.3C457,89.9 463.8,95.6 467,96.5C470.2,97.4 473.6,96.7 477.2,96.1C480.9,95.5 487.5,92.8 494.3,92C501.1,91.3 522.9,91 528.4,90.3C533.8,89.7 533.6,87.6 535.2,86.9C536.8,86.2 539.8,85.4 540.5,85.2L540.5,188.2C538.9,187.6 533.6,184.6 528.4,184.1C523.1,183.5 507,183.7 501.1,184.1C495.2,184.4 488.1,186.4 484.1,186.8C480,187.2 473.1,186 470.4,186.8C467.7,187.6 465.9,192.7 463.6,192.6C461.3,192.5 457,186.6 453.4,185.8C449.7,185 442.2,186.1 436.3,186.8C430.4,187.5 415,189.9 409.1,190.9C403.1,191.9 395.9,193.2 392,194.3C388.1,195.4 384.2,199.6 380.1,199.4C376,199.2 364.3,193.1 361.3,192.6C358.4,192.1 361.1,195.7 357.9,196C354.7,196.3 343.8,195.3 337.5,195C331.1,194.7 314.3,194.6 310.2,193.6C306.1,192.6 311.8,188.2 306.8,187.5C301.8,186.8 282.7,188.5 272.7,188.5C262.7,188.5 239.5,188.1 231.8,187.5C224.1,186.9 217.9,183.5 214.8,184.1C211.6,184.6 214.3,190.4 207.9,191.6C201.6,192.7 173.8,191.9 167,192.6C160.2,193.3 160,196.3 156.8,197C153.6,197.7 146.4,198.2 143.2,197.7C140,197.3 136.6,193.8 132.9,193.6C129.3,193.4 120.4,196.6 115.9,196C111.4,195.4 104.3,189.4 98.9,189.2C93.4,189 82.7,193.5 75,194.3C67.3,195.1 50.7,195.1 40.9,195C31.1,194.9 6.8,193.8 1.5,193.6L1.5,101.2Z" fill="#818181" stroke="#e0e024" stroke-width="2.6" stroke-linejoin="round"/>
<rect x="419" y="255" width="114" height="7" fill="#fff"/>
</g>
<g transform="translate(1874,1366)">
<rect width="542" height="271" fill="#858585"/>
<rect width="542" height="271" fill="#858585" filter="url(#tex)"/>
<path d="M1.5,105.7C3.6,105.4 12.2,104 17,104C21.8,104 33.9,106.1 37.5,105.7C41.1,105.2 41.6,101.3 44.3,100.6C47,99.8 53.9,100.3 57.9,99.9C62,99.4 71.4,97.2 75,97.2C78.6,97.1 82,98 85.2,99.5C88.4,101 93.4,106.5 98.9,108.4C104.3,110.3 119.8,113.4 126.1,113.5C132.5,113.6 139.8,109.8 146.6,109.1C153.4,108.4 170,108.9 177.3,108.4C184.5,107.9 192.9,105.4 201.1,105C209.3,104.5 229.5,104 238.6,105C247.7,106 262.9,111 269.3,112.5C275.7,113.9 281.3,116.1 286.3,115.9C291.3,115.7 302.7,111.7 306.8,110.8C310.9,109.9 314.3,110.5 317,109.1C319.7,107.6 324.1,100.6 327.2,99.9C330.4,99.2 337.2,102.4 340.9,104C344.5,105.6 350.9,110.5 354.5,111.8C358.2,113.1 365,114.1 368.2,113.5C371.3,112.9 375.2,108.2 378.4,107.4C381.6,106.6 389.5,106.5 392,107.4C394.5,108.3 394.9,113 397.1,114.2C399.4,115.4 404.7,116.8 409.1,116.6C413.4,116.4 420.4,113.1 429.5,112.5C438.6,111.9 466.3,111.6 477.2,111.8C488.1,112 504.5,114.1 511.3,114.2C518.1,114.3 524.7,112 528.4,112.5C532,112.9 537,103.5 538.6,117.6C540.2,131.7 541.2,204.5 540.3,218.2C539.4,231.8 534.3,219.6 531.8,219.9C529.3,220.1 523.6,220.5 521.5,219.9C519.5,219.2 520.1,215.5 516.4,214.8C512.8,214 500.4,212.9 494.3,214.1C488.1,215.2 475.4,222.3 470.4,223.3C465.4,224.3 459.5,222.5 456.8,221.6C454.1,220.7 452.5,217.3 450,216.5C447.5,215.6 440.3,214.8 438,215.4C435.8,216.1 435,220.7 432.9,221.6C430.9,222.5 424.5,222.8 422.7,222.3C420.9,221.7 421.6,218.4 419.3,217.5C417,216.6 409.3,215.3 405.6,215.4C402,215.5 394.7,219.2 392,218.2C389.3,217.2 387.5,209.4 385.2,207.9C382.9,206.5 377.7,206.3 375,207.3C372.2,208.2 367.5,213.8 364.7,214.8C362,215.8 357.7,215 354.5,214.8C351.3,214.5 343.6,211.5 340.9,213.1C338.2,214.6 336.1,224.9 334.1,226.7C332,228.5 327.4,228.2 325.5,226.7C323.7,225.2 324.3,217.5 320.4,215.4C316.6,213.4 301.1,212.6 296.6,211.3C292,210.1 289.5,206 286.3,206.2C283.2,206.5 276.8,211.8 272.7,213.1C268.6,214.3 258.8,214.5 255.7,215.4C252.5,216.3 251.1,220 248.8,219.9C246.6,219.8 244.5,215.7 238.6,214.8C232.7,213.8 212.7,213.3 204.5,213.1C196.3,212.8 182.7,213.5 177.3,213.1C171.8,212.6 167.3,210.6 163.6,209.6C160,208.6 153.6,205.1 150,205.6C146.4,206 142.7,212.3 136.4,213.1C130,213.8 109.1,212 102.3,211.3C95.4,210.7 89.8,208.8 85.2,207.9C80.7,207.1 75,205.4 68.2,205.2C61.4,205 40.9,206.6 34.1,206.2C27.3,205.9 21.4,203.1 17,202.8C12.7,202.6 3.6,204.3 1.5,204.5L1.5,105.7Z" fill="#818181" stroke="#e0e024" stroke-width="2.6" stroke-linejoin="round"/>
<rect x="419" y="255" width="114" height="7" fill="#fff"/>
</g>
<g transform="translate(110,1682)">
<rect width="542" height="271" fill="#858585"/>
<rect width="542" height="271" fill="#858585" filter="url(#tex)"/>
<path d="M1.5,107.4C3.1,107.7 10.7,107.9 13.6,109.8C16.6,111.6 20.7,118.9 23.9,121C27,123.1 33.4,124.2 37.5,125.4C41.6,126.7 49.1,130 54.5,130.2C60,130.4 73.4,128.3 78.4,127.1C83.4,126 86.1,122.6 92,121.7C97.9,120.8 117.7,121.2 122.7,120.3C127.7,119.5 125.4,116.3 129.5,115.2C133.6,114.2 149.8,114.2 153.4,112.5C157,110.8 153.6,103.9 156.8,102.3C160,100.7 173.4,99.9 177.3,100.6C181.1,101.2 183.1,105.6 185.8,107.4C188.5,109.2 192.9,112.8 197.7,114.2C202.5,115.6 215.7,117.1 221.6,117.6C227.5,118.1 237.5,118.5 242,117.6C246.6,116.7 251.6,113.1 255.7,110.8C259.8,108.4 266.3,101 272.7,99.9C279.1,98.7 298.6,103.1 303.4,102.3C308.2,101.4 306.2,95.8 308.5,93.7C310.8,91.7 316.6,87.7 320.4,86.9C324.3,86.2 333.8,86.9 337.5,87.9C341.1,89 343.6,93.4 347.7,94.8C351.8,96.1 363.2,97.9 368.2,98.2C373.2,98.4 381.1,96.4 385.2,96.5C389.3,96.6 394.7,97.5 398.8,98.9C402.9,100.2 410.4,105.1 415.9,106.4C421.3,107.6 433.8,109.2 439.7,108.4C445.6,107.6 454.3,101.7 460.2,100.6C466.1,99.4 477.2,100.6 484.1,99.5C490.9,98.5 505.4,93.6 511.3,92.7C517.2,91.8 524.5,92.1 528.4,92.7C532.3,93.3 538.9,96.6 540.5,97.2L540.5,177.3C539.3,177.3 533.8,177.9 531.8,177.9C529.7,177.9 526.5,178.7 525,177.3C523.4,175.8 522.6,168.5 519.8,167C517.1,165.6 507.9,165.4 504.5,166.3C501.1,167.3 496.8,170.8 494.3,173.8C491.8,176.9 487.6,187.5 485.8,189.2C483.9,190.9 482.2,188.4 480.6,186.8C479.1,185.2 477.5,179.7 473.8,177.3C470.2,174.8 457.5,171 453.4,168.7C449.3,166.5 446.3,161.4 443.1,160.2C440,159 432.2,158.9 429.5,159.5C426.8,160.2 424.1,163.6 422.7,165.3C421.3,167 422,170.8 419.3,172.1C416.6,173.5 405.4,174.9 402.2,175.6C399.1,176.2 397.2,178.8 395.4,177.3C393.6,175.7 390.4,166.1 388.6,163.6C386.8,161.1 383.6,159.2 381.8,158.5C380,157.8 377.2,156.5 375,158.5C372.7,160.6 367,171.4 364.7,173.8C362.5,176.3 361.1,177.5 357.9,176.6C354.7,175.7 345.9,168.4 340.9,167C335.9,165.7 325.9,166.9 320.4,166.3C315,165.8 303.6,162.5 300,162.6C296.3,162.7 295.9,165.5 293.2,167C290.4,168.5 283.2,172.9 279.5,173.8C275.9,174.8 270,174.4 265.9,173.8C261.8,173.3 253.4,171.2 248.8,169.4C244.3,167.6 235.4,162.1 231.8,160.2C228.2,158.3 224.8,155.8 221.6,155.1C218.4,154.4 210.2,154.4 207.9,155.1C205.7,155.8 205.2,155.8 204.5,160.2C203.8,164.7 204.6,184.9 202.8,188.5C201,192.1 194.3,189 190.9,187.5C187.5,186 180.4,179 177.3,177.3C174.1,175.5 169.8,174.6 167,174.5C164.3,174.4 159.5,176.2 156.8,176.6C154.1,176.9 149.3,177.6 146.6,177.3C143.9,176.9 139.1,174.4 136.4,173.8C133.6,173.3 128.4,172 126.1,173.2C123.9,174.3 121.1,179.8 119.3,182.4C117.5,185 115.7,190.8 112.5,192.6C109.3,194.4 99.5,195.7 95.4,196C91.4,196.3 85.4,196.4 81.8,195C78.2,193.5 72.3,186.4 68.2,185.1C64.1,183.8 55.7,185.6 51.1,185.1C46.6,184.6 40.7,182.7 34.1,181.3C27.5,180 5.8,175.7 1.5,174.9L1.5,107.4Z" fill="#818181" stroke="#e0e024" stroke-width="2.6" stroke-linejoin="round"/>
<rect x="419" y="255" width="114" height="7" fill="#fff"/>
</g>
<g transform="translate(698,1682)">
<rect width="542" height="271" fill="#858585"/>
<rect width="542" height="271" fill="#858585" filter="url(#tex)"/>
<path d="M1.5,125.4C3.6,125.1 8.2,123.3 17,122.7C25.9,122.1 59.5,121.8 68.2,121C76.8,120.2 77.3,117.7 81.8,116.9C86.4,116.1 97.3,115.1 102.3,115.2C107.3,115.3 113.9,117.1 119.3,117.6C124.8,118.1 139.1,119.8 143.2,119.3C147.3,118.9 147.7,115.6 150,114.2C152.3,112.7 157.5,108.9 160.2,108.4C162.9,107.9 166.8,110 170.4,110.8C174.1,111.6 182.5,112.7 187.5,114.2C192.5,115.7 202,120.6 207.9,122C213.8,123.4 225,124.8 231.8,124.8C238.6,124.8 254.1,123.2 259.1,122C264.1,120.9 266.1,117.5 269.3,115.9C272.5,114.3 279.3,110.8 282.9,110.1C286.6,109.4 291.1,109.8 296.6,110.8C302,111.8 316.6,115.9 323.8,117.6C331.1,119.3 344.3,122.4 351.1,123.4C357.9,124.4 368.2,124.9 375,125.1C381.8,125.3 395,125.9 402.2,125.1C409.5,124.3 422.2,120.4 429.5,119.3C436.8,118.2 450.4,116.9 456.8,116.9C463.1,116.9 471.8,118 477.2,119.3C482.7,120.6 492.7,125.4 497.7,126.8C502.7,128.3 510.6,129.8 514.7,130.2C518.8,130.7 524.9,130.8 528.4,130.2C531.8,129.7 538.9,126.7 540.5,126.1L540.5,173.2C539.3,173.3 535.7,172.4 531.8,173.8C527.9,175.3 515.4,182.9 511.3,184.1C507.2,185.2 504.3,183.2 501.1,182.4C497.9,181.6 490.2,178.8 487.5,177.9C484.7,177 482.2,177.2 480.6,175.6C479.1,173.9 476.9,167.1 475.5,165.3C474.2,163.6 471.8,162.4 470.4,162.6C469.1,162.8 466.7,165.8 465.3,167C463.9,168.3 462.7,171.5 460.2,172.1C457.7,172.8 451.6,171.9 446.6,172.1C441.6,172.4 427.7,173.4 422.7,173.8C417.7,174.3 414.1,176.2 409.1,175.6C404.1,174.9 391.6,169.3 385.2,168.7C378.8,168.1 367.2,170.4 361.3,171.1C355.4,171.8 345.9,173.4 340.9,173.8C335.9,174.3 327,173.5 323.8,174.5C320.7,175.6 318.8,181.1 317,181.7C315.2,182.3 312.9,180.2 310.2,179C307.5,177.7 300.7,174 296.6,172.1C292.5,170.3 282.7,166.8 279.5,165.3C276.3,163.9 275.4,161.8 272.7,161.2C270,160.6 262,159.1 259.1,160.9C256.1,162.7 252.8,172.6 250.5,174.5C248.3,176.5 245.4,175.9 242,175.6C238.6,175.2 228.6,172.4 225,172.1C221.3,171.9 217,173.1 214.8,173.8C212.5,174.6 212,178 207.9,177.9C203.8,177.8 190,174.2 184.1,173.2C178.2,172.2 168.6,171.3 163.6,170.4C158.6,169.6 151.1,168 146.6,167C142,166 133.6,163.3 129.5,162.9C125.4,162.6 119.5,163.8 115.9,164.3C112.3,164.8 106.4,166.5 102.3,167C98.2,167.5 90.7,167.6 85.2,168.1C79.8,168.5 66.8,169.9 61.4,170.4C55.9,171 48,172.3 44.3,172.1C40.7,172 36.8,169.6 34.1,169.4C31.4,169.2 26.6,169.9 23.9,170.4C21.1,170.9 16.6,172.3 13.6,173.2C10.7,174.1 3.1,176.7 1.5,177.3L1.5,125.4Z" fill="#818181" stroke="#e0e024" stroke-width="2.6" stroke-linejoin="round"/>
<rect x="419" y="255" width="114" height="7" fill="#fff"/>
</g>
<g transform="translate(1286,1682)">
<rect width="542" height="271" fill="#858585"/>
<rect width="542" height="271" fill="#858585" filter="url(#tex)"/>
<path d="M1.5,121C3.6,120.6 12.7,118.4 17,117.6C21.4,116.8 29.5,115.4 34.1,115.2C38.6,115 46.1,114.9 51.1,115.9C56.1,116.9 65.7,121.1 71.6,122.7C77.5,124.3 89.1,126.6 95.4,127.8C101.8,129.1 113.4,132.5 119.3,132.3C125.2,132 134.8,127.9 139.8,126.1C144.8,124.4 151.8,120.3 156.8,119.3C161.8,118.3 171.8,118.3 177.3,118.6C182.7,119 193.2,121.4 197.7,122C202.3,122.7 206.8,123.7 211.3,123.4C215.9,123.1 226.8,120.6 231.8,120C236.8,119.4 243.4,118.6 248.8,118.6C254.3,118.6 266.8,120 272.7,120C278.6,120 289.1,119.3 293.2,118.6C297.2,117.9 298.8,115.3 303.4,114.9C307.9,114.4 322.7,114.9 327.2,115.2C331.8,115.6 333.4,116.3 337.5,117.6C341.6,118.9 352.9,124.9 357.9,125.1C362.9,125.3 370,120.9 375,119.3C380,117.7 390,114 395.4,113.2C400.9,112.4 411.8,112.6 415.9,113.2C420,113.8 422.7,115.6 426.1,117.6C429.5,119.6 437.3,126.6 441.4,127.8C445.5,129.1 452,127.5 456.8,126.8C461.6,126.1 471.8,123.9 477.2,122.7C482.7,121.5 494,119.2 497.7,117.6C501.3,116 502.2,111.1 504.5,110.8C506.8,110.4 509.9,113.9 514.7,114.9C519.5,115.9 537.1,117.8 540.5,118.3L540.5,163.6C539.8,164.4 536.6,168.9 535.2,169.4C533.8,170 531.4,168.4 530.1,167.7C528.7,167 529.3,165.1 525,164.3C520.6,163.5 503.1,161.3 497.7,161.9C492.2,162.5 488.1,167.7 484.1,168.7C480,169.8 470.2,170 467,169.8C463.8,169.5 463.4,167.4 460.2,167C457,166.7 447.2,166.7 443.1,167C439.1,167.4 432.7,169.8 429.5,169.8C426.3,169.8 423.8,167.8 419.3,167C414.7,166.2 400.9,163.6 395.4,163.6C390,163.6 381.6,165.8 378.4,167C375.2,168.3 374.7,171.3 371.6,173.2C368.4,175 363.2,179.9 354.5,180.7C345.9,181.4 314.5,179.9 306.8,179C299.1,178.1 299.7,174.5 296.6,173.8C293.4,173.2 286.1,173.4 282.9,173.8C279.7,174.3 275.9,176.7 272.7,177.3C269.5,177.8 261.8,178.4 259.1,177.9C256.3,177.5 255,175.1 252.3,173.8C249.5,172.6 243.2,169.7 238.6,168.7C234.1,167.7 223.2,166.2 218.2,166.3C213.2,166.5 204.8,168.7 201.1,169.8C197.5,170.8 196.3,173.9 190.9,174.5C185.4,175.2 165.7,175.3 160.2,174.5C154.8,173.8 153.2,169.8 150,168.7C146.8,167.6 139.1,166.5 136.4,166.3C133.6,166.2 131.8,166 129.5,167.7C127.3,169.4 122.5,176.6 119.3,179C116.1,181.3 108.9,184.8 105.7,185.1C102.5,185.4 99.1,182.4 95.4,181.3C91.8,180.3 82,178.7 78.4,177.3C74.8,175.8 71.4,171.3 68.2,170.4C65,169.5 57.7,170.1 54.5,170.4C51.4,170.8 47,173.4 44.3,173.2C41.6,172.9 37.3,169.4 34.1,168.7C30.9,168.1 23.6,167.7 20.5,168.1C17.3,168.4 12.8,171.1 10.2,171.1C7.7,171.1 2.7,168.5 1.5,168.1L1.5,121Z" fill="#818181" stroke="#e0e024" stroke-width="2.6" stroke-linejoin="round"/>
<rect x="419" y="255" width="114" height="7" fill="#fff"/>
</g>
<g transform="translate(1874,1682)">
<rect width="542" height="271" fill="#858585"/>
<rect width="542" height="271" fill="#858585" filter="url(#tex)"/>
<path d="M1.5,120C5.4,119.9 25.4,120.2 30.7,119.3C35.9,118.4 37.7,114.1 40.9,113.5C44.1,113 51.4,113.8 54.5,115.2C57.7,116.7 62,122.1 64.8,124.4C67.5,126.7 71.4,131 75,132.3C78.6,133.5 88.4,134 92,133.6C95.7,133.3 99.5,129.4 102.3,129.5C105,129.7 108.9,133.9 112.5,134.6C116.1,135.4 125,135.7 129.5,135C134.1,134.3 142.5,130.6 146.6,129.5C150.7,128.5 156.6,126.8 160.2,127.1C163.8,127.5 168.4,131.9 173.8,132.3C179.3,132.6 192.9,129.5 201.1,129.5C209.3,129.5 229.3,133.1 235.2,132.3C241.1,131.4 242.3,124.4 245.4,123.4C248.6,122.4 256.6,123.4 259.1,124.4C261.6,125.5 261.5,129.4 264.2,131.2C266.9,133.1 276.1,137 279.5,138.1C282.9,139.1 287,140.2 289.7,139.1C292.5,137.9 296.8,131.6 300,129.5C303.2,127.5 309.5,124.9 313.6,123.7C317.7,122.6 325.7,121.7 330.7,121C335.7,120.3 346.1,118.4 351.1,118.6C356.1,118.9 362.7,121.5 368.2,122.7C373.6,123.9 386.6,125.6 392,127.8C397.5,130 405,138.7 409.1,139.1C413.1,139.4 418.6,131.8 422.7,130.6C426.8,129.3 435.6,129.2 439.7,129.5C443.8,129.9 450.2,133.3 453.4,132.9C456.6,132.6 459.1,127.6 463.6,126.8C468.1,126 483.4,125.9 487.5,126.8C491.5,127.8 492.5,133.1 494.3,134C496.1,134.9 499.3,134.7 501.1,133.6C502.9,132.6 505.2,127.6 507.9,126.1C510.6,124.7 518.4,122.3 521.5,122.7C524.7,123.2 529.2,127.5 531.8,129.5C534.3,131.6 539.3,136.9 540.5,138.1L540.5,213.1C539.3,213.7 533.8,216.6 531.8,218.2C529.7,219.8 527.2,224.8 525,225C522.7,225.2 517,221.3 514.7,219.9C512.5,218.4 509.7,214.8 507.9,214.1C506.1,213.4 502.9,213.8 501.1,214.8C499.3,215.7 496.5,220.4 494.3,220.9C492,221.3 486.3,218.9 484.1,218.2C481.8,217.4 479.1,215.4 477.2,215.4C475.4,215.4 472,217.8 470.4,218.2C468.8,218.5 466.4,219.5 465.3,218.2C464.2,216.8 463.3,209.5 461.9,207.9C460.5,206.3 457.6,204.6 455.1,206.2C452.6,207.8 446.1,218.3 443.1,219.9C440.2,221.5 435.6,219.3 432.9,218.2C430.2,217 426.8,213.2 422.7,211.3C418.6,209.5 406.8,205.5 402.2,204.5C397.7,203.5 393.1,203.5 388.6,203.8C384.1,204.2 375.4,205.8 368.2,207.3C360.9,208.7 340,213.7 334.1,214.8C328.2,215.8 326.1,217 323.8,215.4C321.6,213.8 320.2,204.4 317,202.8C313.8,201.3 304.1,203.5 300,203.8C295.9,204.2 290.9,204.4 286.3,205.2C281.8,206 271.3,207.8 265.9,209.6C260.4,211.5 249.5,217.7 245.4,218.8C241.3,220 237.5,220.1 235.2,218.2C232.9,216.3 230.2,206.7 228.4,204.5C226.6,202.3 224.8,201.7 221.6,201.8C218.4,201.9 209.1,204.9 204.5,205.2C200,205.5 192.5,204.3 187.5,203.8C182.5,203.4 172,201.8 167,201.8C162,201.8 154.1,202.9 150,203.8C145.9,204.8 142.7,208.3 136.4,208.6C130,208.9 109.5,207.2 102.3,206.2C95,205.2 86.4,202 81.8,201.1C77.3,200.2 71.8,199.2 68.2,199.4C64.5,199.6 57.7,201.6 54.5,202.8C51.4,204.1 46.6,208.2 44.3,208.6C42,209.1 40.2,208.4 37.5,206.2C34.8,204.1 28.7,194.6 23.9,192.6C19.1,190.6 4.5,191.1 1.5,190.9L1.5,120Z" fill="#818181" stroke="#e0e024" stroke-width="2.6" stroke-linejoin="round"/>
<rect x="419" y="255" width="114" height="7" fill="#fff"/>
</g>
<g transform="translate(110,1998)">
<rect width="542" height="271" fill="#858585"/>
<rect width="542" height="271" fill="#858585" filter="url(#tex)"/>
<path d="M1.5,115.9C2.2,116.6 4.7,119 6.8,121C8.9,123.1 13.4,128.5 17,131.2C20.7,134 29.5,139.1 34.1,141.5C38.6,143.9 46.6,147.9 51.1,149.3C55.7,150.7 63.2,151.6 68.2,151.7C73.2,151.8 84.1,150 88.6,150C93.2,150 100,151 102.3,151.7C104.5,152.4 106.1,154 105.7,155.1C105.2,156.2 101.6,158.6 98.9,160.2C96.1,161.8 88.9,165.8 85.2,167C81.6,168.3 75.2,169.4 71.6,169.4C67.9,169.4 61.6,167.7 57.9,167C54.3,166.3 48,165.4 44.3,164.3C40.7,163.2 34.3,160.2 30.7,158.5C27,156.8 20.2,152.1 17,151.7C13.9,151.2 8.9,154.2 6.8,155.1C4.7,156 2.2,158.1 1.5,158.5L1.5,115.9Z" fill="#818181" stroke="#e0e024" stroke-width="2.6" stroke-linejoin="round"/>
<path d="M122.7,143.2C125.8,141.8 137.7,140.4 143.2,139.8C148.6,139.1 159.5,139 163.6,138.1C167.7,137.1 170.2,133.4 173.8,132.9C177.5,132.5 186.8,134.6 190.9,134.6C195,134.6 200.4,133.3 204.5,132.9C208.6,132.6 217.5,133.2 221.6,132.3C225.7,131.4 231.1,128.1 235.2,126.1C239.3,124.2 248.6,118.7 252.3,117.6C255.9,116.5 260.2,116.7 262.5,117.6C264.8,118.5 268.2,122.6 269.3,124.4C270.4,126.2 272.4,129 271,131.2C269.6,133.5 262.5,139.4 259.1,141.5C255.7,143.5 250,145.9 245.4,146.6C240.9,147.3 230.4,146.4 225,146.6C219.5,146.8 209.1,148.1 204.5,148.3C200,148.5 193.4,147.6 190.9,148.3C188.4,149 186.7,150.2 185.8,153.4C184.9,156.6 185,169.6 184.1,172.1C183.2,174.6 181.7,173.7 179,172.1C176.2,170.6 167.5,162.5 163.6,160.2C159.8,157.9 153.6,155.8 150,155.1C146.4,154.4 140,154.9 136.4,155.1C132.7,155.3 124.9,157.5 122.7,156.8C120.5,156.1 120,151.8 120,150C120,148.2 119.6,144.5 122.7,143.2Z" fill="#818181" stroke="#e0e024" stroke-width="2.6" stroke-linejoin="round"/>
<path d="M289.7,139.8C292.2,137.9 302.7,131.8 306.8,129.5C310.9,127.3 317.7,124.1 320.4,122.7C323.2,121.4 325.9,120.7 327.2,119.3C328.6,117.9 328.8,113.4 330.7,112.5C332.5,111.6 338.4,111.8 340.9,112.5C343.4,113.2 347.1,115.6 349.4,117.6C351.7,119.6 355.4,127.1 357.9,127.8C360.4,128.5 365.4,123.9 368.2,122.7C370.9,121.6 376.1,119.5 378.4,119.3C380.6,119.1 383.8,119.6 385.2,121C386.6,122.4 385.4,128.2 388.6,129.5C391.8,130.9 404.5,130.3 409.1,131.2C413.6,132.1 419.5,134.5 422.7,136.4C425.9,138.2 431.8,142.4 432.9,144.9C434.1,147.4 432.1,153.7 431.2,155.1C430.3,156.5 429.1,155.8 426.1,155.1C423.1,154.4 412.2,151.7 409.1,150C405.9,148.3 405.4,143.2 402.2,142.5C399.1,141.8 389.3,144.2 385.2,144.9C381.1,145.5 374.1,146.6 371.6,147.3C369.1,147.9 367.8,150.8 366.4,150C365.1,149.2 362.9,142.8 361.3,141.5C359.7,140.1 356.3,139.3 354.5,139.8C352.7,140.2 351.3,143.3 347.7,144.9C344.1,146.5 331.3,150.3 327.2,151.7C323.2,153.1 318.8,155.8 317,155.1C315.2,154.4 314.7,148.5 313.6,146.6C312.5,144.6 310.8,141 308.5,140.4C306.2,139.9 299.3,142.1 296.6,142.5C293.8,142.9 289,143.5 288,143.2C287.1,142.8 287.2,141.6 289.7,139.8Z" fill="#818181" stroke="#e0e024" stroke-width="2.6" stroke-linejoin="round"/>
<path d="M456.8,127.8C459.7,126.9 471.3,125.3 477.2,124.4C483.1,123.5 496.1,122.1 501.1,121C506.1,119.9 510.6,117 514.7,115.9C518.8,114.8 528.3,112.3 531.8,112.5C535.2,112.7 539.3,116.9 540.5,117.6L540.5,148.3C538.4,147.8 528.4,144.6 525,144.9C521.5,145.1 517,148.6 514.7,150C512.5,151.4 511.1,154.2 507.9,155.1C504.7,156 496.8,156.7 490.9,156.8C485,156.9 467.7,157 463.6,156.1C459.5,155.2 460.2,151.7 460.2,150C460.2,148.3 463.8,145 463.6,143.2C463.4,141.4 459.6,137.9 458.5,136.4C457.3,134.8 455.3,132.4 455.1,131.2C454.8,130.1 453.8,128.7 456.8,127.8Z" fill="#818181" stroke="#e0e024" stroke-width="2.6" stroke-linejoin="round"/>
<rect x="419" y="255" width="114" height="7" fill="#fff"/>
</g>
<g transform="translate(698,1998)">
<rect width="542" height="271" fill="#858585"/>
<rect width="542" height="271" fill="#858585" filter="url(#tex)"/>
<path d="M1.5,144.9C3.6,145.5 11.8,149.3 17,149.3C22.3,149.3 34.1,146.1 40.9,144.9C47.7,143.7 62.7,141.4 68.2,140.4C73.6,139.5 77.9,138.8 81.8,138.1C85.7,137.3 94.7,134.4 97.2,134.6C99.7,134.9 101.2,137.9 100.6,139.8C99.9,141.6 94.5,146.9 92,148.3C89.5,149.6 84.1,149.9 81.8,150C79.5,150.1 76.4,148.9 75,149.3C73.6,149.8 74.8,152.4 71.6,153.4C68.4,154.4 54.8,156.6 51.1,156.8C47.5,157 45.7,155.8 44.3,155.1C43,154.4 42.7,152.1 40.9,151.7C39.1,151.3 33.9,151.7 30.7,152.4C27.5,153.1 20.9,155.5 17,156.8C13.2,158.1 3.6,161.2 1.5,161.9L1.5,144.9Z" fill="#818181" stroke="#e0e024" stroke-width="2.6" stroke-linejoin="round"/>
<path d="M136.4,143.2C137.3,141.9 140.4,140.2 143.2,139.1C145.9,137.9 154.1,135.1 156.8,134.6C159.5,134.2 161.4,134.3 163.6,135.7C165.9,137 172.3,142.5 173.8,144.9C175.4,147.2 176,151.6 175.6,153.4C175.1,155.2 172.5,157.8 170.4,158.5C168.4,159.2 163.4,159.4 160.2,158.5C157,157.6 149.8,153.1 146.6,151.7C143.4,150.3 137.7,149.4 136.4,148.3C135,147.1 135.4,144.4 136.4,143.2Z" fill="#818181" stroke="#e0e024" stroke-width="2.6" stroke-linejoin="round"/>
<path d="M190.9,138.1C192,136.8 195,133.4 197.7,132.3C200.4,131.1 208.6,129.4 211.3,129.5C214.1,129.6 217.3,131.6 218.2,132.9C219.1,134.3 218.8,137.9 218.2,139.8C217.5,141.7 215.3,146 213.1,147.3C210.8,148.5 204.1,149.3 201.1,149.3C198.2,149.3 192.5,148.3 190.9,147.3C189.3,146.2 189.2,142.7 189.2,141.5C189.2,140.2 189.8,139.3 190.9,138.1Z" fill="#818181" stroke="#e0e024" stroke-width="2.6" stroke-linejoin="round"/>
<path d="M228.4,143.2C230.7,141.7 242.7,141.1 245.4,140.4C248.2,139.8 245.7,138.4 248.8,138.1C252,137.7 263.8,138.5 269.3,138.1C274.7,137.6 284.7,135.6 289.7,134.6C294.7,133.7 303.6,131.3 306.8,131.2C310,131.1 311.8,132.8 313.6,134C315.4,135.1 318.2,138.6 320.4,139.8C322.7,140.9 328.9,141.1 330.7,142.5C332.4,143.9 333.8,148.4 333.4,150C332.9,151.5 330.8,153.8 327.2,154.1C323.7,154.4 312.2,152.8 306.8,152.4C301.3,152 292.7,151 286.3,151C280,151 264.1,151.6 259.1,152.4C254.1,153.1 252,156.2 248.8,156.8C245.7,157.4 237.9,157.5 235.2,156.8C232.5,156.1 229.3,153.5 228.4,151.7C227.5,149.9 226.1,144.7 228.4,143.2Z" fill="#818181" stroke="#e0e024" stroke-width="2.6" stroke-linejoin="round"/>
<path d="M456.8,134.6C457.7,132.8 461.6,130.6 463.6,129.5C465.6,128.5 470.3,126.6 472.1,126.8C473.9,127 475.2,129.3 477.2,131.2C479.3,133.2 484.3,140.1 487.5,141.5C490.6,142.8 497.9,140.7 501.1,141.5C504.3,142.2 507.7,146.8 511.3,147.3C515,147.7 525.1,145.3 528.4,144.9C531.6,144.4 535.2,142.5 535.9,143.9C536.5,145.2 535.4,153.1 533.5,155.1C531.6,157.1 523.8,157.4 521.5,158.5C519.3,159.6 518.7,162.9 516.4,163.6C514.2,164.3 507,164.4 504.5,163.6C502,162.8 501.3,158.4 497.7,157.5C494,156.6 481.8,157.7 477.2,156.8C472.7,155.9 466.3,152.5 463.6,150.7C460.9,148.9 457.7,145.3 456.8,143.2C455.9,141 455.9,136.5 456.8,134.6Z" fill="#818181" stroke="#e0e024" stroke-width="2.6" stroke-linejoin="round"/>
<rect x="419" y="255" width="114" height="7" fill="#fff"/>
</g>
<g transform="translate(1286,1998)">
<rect width="542" height="271" fill="#858585"/>
<rect width="542" height="271" fill="#858585" filter="url(#tex)"/>
<path d="M5.1,143.2C7.3,142 15.7,140.2 20.5,139.8C25.2,139.3 36.4,140.3 40.9,139.8C45.5,139.2 50.5,136.5 54.5,135.7C58.6,134.9 67,133.4 71.6,133.6C76.1,133.8 85.4,136.2 88.6,137C91.8,137.9 91.8,139.5 95.4,139.8C99.1,140 110.4,139.3 115.9,139.1C121.4,138.9 132.3,137.7 136.4,138.1C140.4,138.4 144.8,139.9 146.6,141.5C148.4,143.1 151.4,148.6 150,150C148.6,151.4 140,151.2 136.4,151.7C132.7,152.1 125.4,152.5 122.7,153.4C120,154.3 118.6,158.3 115.9,158.5C113.2,158.7 106.8,156.7 102.3,155.1C97.7,153.5 86.4,147.3 81.8,146.6C77.3,145.9 71.4,148.9 68.2,150C65,151.1 61.1,154.6 57.9,155.1C54.8,155.6 48,154.1 44.3,153.4C40.7,152.7 33.9,150.9 30.7,150C27.5,149.1 22.7,146.6 20.5,146.6C18.2,146.6 15.5,149.1 13.6,150C11.8,150.9 8.1,153.6 6.8,153.4C5.5,153.2 4.3,149.6 4.1,148.3C3.9,146.9 2.9,144.3 5.1,143.2Z" fill="#818181" stroke="#e0e024" stroke-width="2.6" stroke-linejoin="round"/>
<path d="M180.7,144.9C182,144 188.6,143.5 190.9,143.2C193.2,142.9 195.9,142.1 197.7,142.5C199.5,142.9 202.7,144.9 204.5,145.9C206.3,146.9 207.7,149.2 211.3,150C215,150.8 228.7,150.8 231.8,151.7C234.9,152.6 235.4,155.8 234.5,156.8C233.6,157.9 227.6,159.4 225,159.5C222.3,159.6 217.5,158.1 214.8,157.5C212,156.9 208.2,155.6 204.5,155.1C200.9,154.6 190.7,154.8 187.5,154.1C184.3,153.4 181.6,151.2 180.7,150C179.8,148.8 179.3,145.8 180.7,144.9Z" fill="#818181" stroke="#e0e024" stroke-width="2.6" stroke-linejoin="round"/>
<path d="M279.5,143.2C280.7,141.9 283.6,139.6 286.3,139.1C289.1,138.5 296.8,138.5 300,139.1C303.2,139.6 309.1,141.9 310.2,143.2C311.3,144.4 310.3,147.4 308.5,148.3C306.7,149.2 299.5,149.3 296.6,150C293.6,150.7 288.6,152.9 286.3,153.4C284.1,153.9 280.7,154.1 279.5,153.4C278.4,152.7 277.8,149.6 277.8,148.3C277.8,146.9 278.4,144.4 279.5,143.2Z" fill="#818181" stroke="#e0e024" stroke-width="2.6" stroke-linejoin="round"/>
<path d="M357.9,143.2C360.3,142.3 371.3,140.9 375,139.8C378.6,138.6 382.5,135.5 385.2,134.6C387.9,133.8 392.2,133.2 395.4,133.6C398.6,134.1 405.4,136.8 409.1,138.1C412.7,139.3 420.6,141.6 422.7,143.2C424.7,144.8 425.3,148.7 424.4,150C423.5,151.3 417.9,151.8 415.9,152.7C413.8,153.6 411.3,156.5 409.1,156.8C406.8,157.1 402.5,155.8 398.8,155.1C395.2,154.4 386.8,152.1 381.8,151.7C376.8,151.2 364.6,152.4 361.3,151.7C358.1,151 357.7,147.7 357.2,146.6C356.8,145.4 355.6,144.1 357.9,143.2Z" fill="#818181" stroke="#e0e024" stroke-width="2.6" stroke-linejoin="round"/>
<path d="M467,146.6C468.1,145.9 474.1,146.4 477.2,145.9C480.4,145.4 487.2,143.5 490.9,142.5C494.5,141.4 501.5,138.3 504.5,138.1C507.5,137.8 511.7,139.3 513,140.4C514.4,141.6 515.9,145.3 514.7,146.6C513.6,147.9 507.7,149.3 504.5,150C501.3,150.7 494,151.2 490.9,151.7C487.7,152.1 483.6,153.5 480.6,153.4C477.7,153.3 470.5,151.6 468.7,150.7C466.9,149.8 465.9,147.2 467,146.6Z" fill="#818181" stroke="#e0e024" stroke-width="2.6" stroke-linejoin="round"/>
<rect x="419" y="255" width="114" height="7" fill="#fff"/>
</g>
<g transform="translate(1874,1998)">
<rect width="542" height="271" fill="#858585"/>
<rect width="542" height="271" fill="#858585" filter="url(#tex)"/>
<path d="M1.5,140.8C6.3,140.8 31.6,139.8 37.5,140.8C43.4,141.8 42.4,147.2 46,148.3C49.7,149.4 60,149.9 64.8,149C69.5,148.1 77.3,142 81.8,141.5C86.4,140.9 94.8,143.7 98.9,144.9C102.9,146 107.5,149.7 112.5,150C117.5,150.3 130.9,148.8 136.4,147.3C141.8,145.8 149.3,138.9 153.4,138.7C157.5,138.6 160.2,144.5 167,145.9C173.8,147.3 195,148.6 204.5,149C214.1,149.3 230.9,148.5 238.6,148.3C246.3,148.1 256.6,147 262.5,147.3C268.4,147.5 277,150.2 282.9,150C288.8,149.8 299.1,146.8 306.8,145.9C314.5,145 335.7,144.9 340.9,143.2C346.1,141.4 343.3,135.3 346,132.9C348.7,130.6 358.2,126.3 361.3,125.4C364.5,124.6 366.7,124.4 369.9,126.8C373,129.2 381.6,139.4 385.2,143.2C388.8,146.9 389.4,153.6 397.1,155.1C404.9,156.6 434.7,154.8 443.1,154.1C451.6,153.4 454.7,150.7 460.2,150C465.6,149.3 480.4,149.6 484.1,149C487.7,148.3 483.4,145.4 487.5,144.9C491.5,144.3 507.7,144.3 514.7,144.9C521.8,145.4 537.1,148.4 540.5,149L540.3,185.8C539.4,187.9 536.9,199.4 533.5,201.8C530.1,204.2 518.6,203.6 514.7,203.5C510.9,203.4 509,202.1 504.5,201.1C500,200.1 488.4,196.3 480.6,196C472.9,195.7 456.1,198.1 446.6,198.7C437,199.4 415.9,200.8 409.1,201.1C402.2,201.4 399.1,201.8 395.4,201.1C391.8,200.4 384.5,196.8 381.8,196C379.1,195.2 378.2,194.8 375,195C371.8,195.2 362.5,196.9 357.9,197.7C353.4,198.5 345.2,200.1 340.9,201.1C336.6,202.1 328,207 325.5,205.2C323,203.4 323.3,190.1 322.1,187.5C321,184.9 318.6,185.6 317,185.8C315.4,185.9 311.8,187.4 310.2,188.5C308.6,189.6 308.3,192.8 305.1,194.3C301.9,195.8 290.7,198.5 286.3,199.4C282,200.3 277.2,202 272.7,201.1C268.2,200.2 256.8,194 252.3,192.6C247.7,191.2 245,190.9 238.6,190.9C232.3,190.9 213.6,192.7 204.5,192.6C195.4,192.5 179.5,190.5 170.4,189.9C161.4,189.3 145.4,188.7 136.4,188.2C127.3,187.6 109.5,185.4 102.3,185.8C95,186.1 86.4,189.7 81.8,190.9C77.3,192.1 73.6,194.6 68.2,195C62.7,195.3 45.9,195.1 40.9,193.6C35.9,192.2 33,185.8 30.7,184.1C28.4,182.3 25.7,180.9 23.9,180.7C22,180.4 19.3,181.5 17,182.4C14.8,183.3 8.9,187.5 6.8,187.5C4.7,187.5 2.2,183.1 1.5,182.4L1.5,140.8Z" fill="#818181" stroke="#e0e024" stroke-width="2.6" stroke-linejoin="round"/>
<rect x="419" y="255" width="114" height="7" fill="#fff"/>
</g>
<text x="675" y="147.5" font-size="64" font-weight="bold" text-anchor="middle">M13SV1-</text>
<text x="675" y="211.0" font-size="64" font-weight="bold" text-anchor="middle">EGFP-Neo</text>
<text x="1263" y="211.0" font-size="64" font-weight="bold" text-anchor="middle">HS578T-Hyg</text>
<text x="1851" y="147.5" font-size="64" font-weight="bold" text-anchor="middle">HS578T-Hyg</text>
<text x="1851" y="211.0" font-size="64" font-weight="bold" text-anchor="middle">ZEB1-KO</text>
<text x="381" y="1329.5" font-size="64" font-weight="bold" text-anchor="middle">M13HS-2</text>
<text x="969" y="1266.0" font-size="64" font-weight="bold" text-anchor="middle">M13HS-2</text>
<text x="969" y="1329.5" font-size="64" font-weight="bold" text-anchor="middle">ZEB1-KO</text>
<text x="1557" y="1329.5" font-size="64" font-weight="bold" text-anchor="middle">M13HS-8</text>
<text x="2145" y="1266.0" font-size="64" font-weight="bold" text-anchor="middle">M13HS-8</text>
<text x="2145" y="1329.5" font-size="64" font-weight="bold" text-anchor="middle">ZEB1-KO</text>
<text transform="translate(385.5,382) rotate(-90)" x="0" y="0" font-size="51.5" font-weight="bold" text-anchor="middle">t=4h</text>
<text transform="translate(385.5,698) rotate(-90)" x="0" y="0" font-size="51.5" font-weight="bold" text-anchor="middle">t=12h</text>
<text transform="translate(385.5,1014) rotate(-90)" x="0" y="0" font-size="51.5" font-weight="bold" text-anchor="middle">t=20h</text>
<text transform="translate(93,1500) rotate(-90)" x="0" y="0" font-size="51.5" font-weight="bold" text-anchor="middle">t=4h</text>
<text transform="translate(93,1816) rotate(-90)" x="0" y="0" font-size="51.5" font-weight="bold" text-anchor="middle">t=12h</text>
<text transform="translate(93,2132) rotate(-90)" x="0" y="0" font-size="51.5" font-weight="bold" text-anchor="middle">t=20h</text>
<line x1="625" y1="2466.0" x2="625" y2="3226" stroke="#000" stroke-width="4.5"/>
<line x1="623" y1="3224.5" x2="1911.0" y2="3224.5" stroke="#000" stroke-width="4.5"/>
<line x1="615" y1="3224.0" x2="625" y2="3224.0" stroke="#000" stroke-width="3.5"/>
<text x="611" y="3240.0" font-size="41" font-weight="bold" text-anchor="end">0</text>
<line x1="615" y1="3098.0" x2="625" y2="3098.0" stroke="#000" stroke-width="3.5"/>
<text x="611" y="3114.0" font-size="41" font-weight="bold" text-anchor="end">20</text>
<line x1="615" y1="2972.0" x2="625" y2="2972.0" stroke="#000" stroke-width="3.5"/>
<text x="611" y="2988.0" font-size="41" font-weight="bold" text-anchor="end">40</text>
<line x1="615" y1="2846.0" x2="625" y2="2846.0" stroke="#000" stroke-width="3.5"/>
<text x="611" y="2862.0" font-size="41" font-weight="bold" text-anchor="end">60</text>
<line x1="615" y1="2720.0" x2="625" y2="2720.0" stroke="#000" stroke-width="3.5"/>
<text x="611" y="2736.0" font-size="41" font-weight="bold" text-anchor="end">80</text>
<line x1="615" y1="2594.0" x2="625" y2="2594.0" stroke="#000" stroke-width="3.5"/>
<text x="611" y="2610.0" font-size="41" font-weight="bold" text-anchor="end">100</text>
<line x1="615" y1="2468.0" x2="625" y2="2468.0" stroke="#000" stroke-width="3.5"/>
<text x="611" y="2484.0" font-size="41" font-weight="bold" text-anchor="end">120</text>
<line x1="619" y1="3161.0" x2="625" y2="3161.0" stroke="#000" stroke-width="3.5"/>
<line x1="619" y1="3035.0" x2="625" y2="3035.0" stroke="#000" stroke-width="3.5"/>
<line x1="619" y1="2909.0" x2="625" y2="2909.0" stroke="#000" stroke-width="3.5"/>
<line x1="619" y1="2783.0" x2="625" y2="2783.0" stroke="#000" stroke-width="3.5"/>
<line x1="619" y1="2657.0" x2="625" y2="2657.0" stroke="#000" stroke-width="3.5"/>
<line x1="619" y1="2531.0" x2="625" y2="2531.0" stroke="#000" stroke-width="3.5"/>
<line x1="625.0" y1="3224" x2="625.0" y2="3233" stroke="#000" stroke-width="3.5"/>
<text x="625.0" y="3275.5" font-size="41" font-weight="bold" text-anchor="middle">4</text>
<line x1="1267.0" y1="3224" x2="1267.0" y2="3233" stroke="#000" stroke-width="3.5"/>
<text x="1267.0" y="3275.5" font-size="41" font-weight="bold" text-anchor="middle">12</text>
<line x1="1909.0" y1="3224" x2="1909.0" y2="3233" stroke="#000" stroke-width="3.5"/>
<text x="1909.0" y="3275.5" font-size="41" font-weight="bold" text-anchor="middle">20</text>
<text x="1267.0" y="3330.5" font-size="42" font-weight="bold" text-anchor="middle">Time (h)</text>
<text transform="translate(529,2835) rotate(-90)" font-size="42.8" font-weight="bold" text-anchor="middle">Scratch closure (area %)</text>
<polyline points="625,3224 1267,3072.8 1909,2866.8" fill="none" stroke="#0000ff" stroke-linejoin="round" stroke-dasharray="8.5 13.5" stroke-linecap="round" stroke-width="4.3"/>
<polyline points="625,3224 1267,2810.1 1909,2611.6" fill="none" stroke="#ff0000" stroke-linejoin="round" stroke-dasharray="8.5 13.5" stroke-linecap="round" stroke-width="4.3"/>
<polyline points="625,3224 1267,2917.8 1909,2674" fill="none" stroke="#9a6620" stroke-linejoin="round" stroke-dasharray="8.5 13.5" stroke-linecap="round" stroke-width="4.3"/>
<polyline points="625,3224 1267,2942.4 1909,2689.1" fill="none" stroke="#0000ff" stroke-linejoin="round" stroke-width="4.3"/>
<polyline points="625,3224 1267,2934.8 1909,2692.9" fill="none" stroke="#9a6620" stroke-linejoin="round" stroke-width="4.3"/>
<polyline points="625,3224 1267,2931.7 1909,2717.5" fill="none" stroke="#ff0000" stroke-linejoin="round" stroke-width="5"/>
<polyline points="625,3224 1267,2921 1909,2735.8" fill="none" stroke="#000" stroke-linejoin="round" stroke-width="4.3"/>
<line x1="1267" y1="3042.6" x2="1267" y2="3103.7" stroke="#0000ff" stroke-width="2.5"/>
<line x1="1252.5" y1="3103.7" x2="1281.5" y2="3103.7" stroke="#0000ff" stroke-width="3.5"/>
<line x1="1252.5" y1="3042.6" x2="1281.5" y2="3042.6" stroke="#0000ff" stroke-width="3.5"/>
<line x1="1909" y1="2818.9" x2="1909" y2="2915.3" stroke="#0000ff" stroke-width="2.5"/>
<line x1="1894.5" y1="2915.3" x2="1923.5" y2="2915.3" stroke="#0000ff" stroke-width="3.5"/>
<line x1="1894.5" y1="2818.9" x2="1923.5" y2="2818.9" stroke="#0000ff" stroke-width="3.5"/>
<polygon points="625,3210 639,3224 625,3238 611,3224" fill="#0000ff" stroke="#000" stroke-width="2.8"/>
<path d="M611.5,3224L638.5,3224M625,3210.5L625,3237.5" stroke="#000" stroke-width="2.5"/>
<polygon points="1267,3058.8 1281,3072.8 1267,3086.8 1253,3072.8" fill="#0000ff" stroke="#000" stroke-width="2.8"/>
<path d="M1253.5,3072.8L1280.5,3072.8M1267,3059.3L1267,3086.3" stroke="#000" stroke-width="2.5"/>
<polygon points="1909,2852.8 1923,2866.8 1909,2880.8 1895,2866.8" fill="#0000ff" stroke="#000" stroke-width="2.8"/>
<path d="M1895.5,2866.8L1922.5,2866.8M1909,2853.3L1909,2880.3" stroke="#000" stroke-width="2.5"/>
<line x1="1267" y1="2915.3" x2="1267" y2="2976.4" stroke="#0000ff" stroke-width="2.5"/>
<line x1="1252.5" y1="2976.4" x2="1281.5" y2="2976.4" stroke="#0000ff" stroke-width="3.5"/>
<line x1="1252.5" y1="2915.3" x2="1281.5" y2="2915.3" stroke="#0000ff" stroke-width="3.5"/>
<line x1="1909" y1="2655.1" x2="1909" y2="2720" stroke="#0000ff" stroke-width="2.5"/>
<line x1="1894.5" y1="2720" x2="1923.5" y2="2720" stroke="#0000ff" stroke-width="3.5"/>
<line x1="1894.5" y1="2655.1" x2="1923.5" y2="2655.1" stroke="#0000ff" stroke-width="3.5"/>
<polygon points="625,3210 639,3224 625,3238 611,3224" fill="#0000ff" stroke="#000" stroke-width="2.8"/>
<polygon points="1267,2928.4 1281,2942.4 1267,2956.4 1253,2942.4" fill="#0000ff" stroke="#000" stroke-width="2.8"/>
<polygon points="1909,2675.1 1923,2689.1 1909,2703.1 1895,2689.1" fill="#0000ff" stroke="#000" stroke-width="2.8"/>
<line x1="1267" y1="2890.1" x2="1267" y2="2973.3" stroke="#9a6620" stroke-width="2.5"/>
<line x1="1252.5" y1="2973.3" x2="1281.5" y2="2973.3" stroke="#9a6620" stroke-width="3.5"/>
<line x1="1252.5" y1="2890.1" x2="1281.5" y2="2890.1" stroke="#9a6620" stroke-width="3.5"/>
<line x1="1909" y1="2669.6" x2="1909" y2="2720" stroke="#9a6620" stroke-width="2.5"/>
<line x1="1894.5" y1="2720" x2="1923.5" y2="2720" stroke="#9a6620" stroke-width="3.5"/>
<line x1="1894.5" y1="2669.6" x2="1923.5" y2="2669.6" stroke="#9a6620" stroke-width="3.5"/>
<polygon points="611,3209.8 639,3209.8 625,3237.5" fill="#9a6620" stroke="#000" stroke-width="2.6" stroke-linejoin="miter"/>
<polygon points="1253,2920.6 1281,2920.6 1267,2948.3" fill="#9a6620" stroke="#000" stroke-width="2.6" stroke-linejoin="miter"/>
<polygon points="1895,2678.7 1923,2678.7 1909,2706.4" fill="#9a6620" stroke="#000" stroke-width="2.6" stroke-linejoin="miter"/>
<line x1="1267" y1="2890.1" x2="1267" y2="2973.3" stroke="#ff0000" stroke-width="2.5"/>
<line x1="1252.5" y1="2973.3" x2="1281.5" y2="2973.3" stroke="#ff0000" stroke-width="3.5"/>
<line x1="1252.5" y1="2890.1" x2="1281.5" y2="2890.1" stroke="#ff0000" stroke-width="3.5"/>
<line x1="1909" y1="2645.7" x2="1909" y2="2789.3" stroke="#ff0000" stroke-width="2.5"/>
<line x1="1894.5" y1="2789.3" x2="1923.5" y2="2789.3" stroke="#ff0000" stroke-width="3.5"/>
<line x1="1894.5" y1="2645.7" x2="1923.5" y2="2645.7" stroke="#ff0000" stroke-width="3.5"/>
<rect x="610.8" y="3209.8" width="28.5" height="28.5" fill="#ff0000" stroke="#000" stroke-width="2.8"/>
<rect x="1252.8" y="2917.4" width="28.5" height="28.5" fill="#ff0000" stroke="#000" stroke-width="2.8"/>
<rect x="1894.8" y="2703.2" width="28.5" height="28.5" fill="#ff0000" stroke="#000" stroke-width="2.8"/>
<line x1="1267" y1="2890.1" x2="1267" y2="2950.6" stroke="#9a6620" stroke-width="2.5"/>
<line x1="1252.5" y1="2950.6" x2="1281.5" y2="2950.6" stroke="#9a6620" stroke-width="3.5"/>
<line x1="1252.5" y1="2890.1" x2="1281.5" y2="2890.1" stroke="#9a6620" stroke-width="3.5"/>
<line x1="1909" y1="2638.1" x2="1909" y2="2675.9" stroke="#9a6620" stroke-width="2.5"/>
<line x1="1894.5" y1="2675.9" x2="1923.5" y2="2675.9" stroke="#9a6620" stroke-width="3.5"/>
<line x1="1894.5" y1="2638.1" x2="1923.5" y2="2638.1" stroke="#9a6620" stroke-width="3.5"/>
<polygon points="611,3209.8 625,3209.8 625,3237.5" fill="#9a6620"/>
<polygon points="625,3209.8 639,3209.8 625,3237.5" fill="#000"/>
<polygon points="611,3209.8 639,3209.8 625,3237.5" fill="none" stroke="#000" stroke-width="2.6"/>
<polygon points="1253,2903.6 1267,2903.6 1267,2931.3" fill="#9a6620"/>
<polygon points="1267,2903.6 1281,2903.6 1267,2931.3" fill="#000"/>
<polygon points="1253,2903.6 1281,2903.6 1267,2931.3" fill="none" stroke="#000" stroke-width="2.6"/>
<polygon points="1895,2659.8 1909,2659.8 1909,2687.5" fill="#9a6620"/>
<polygon points="1909,2659.8 1923,2659.8 1909,2687.5" fill="#000"/>
<polygon points="1895,2659.8 1923,2659.8 1909,2687.5" fill="none" stroke="#000" stroke-width="2.6"/>
<line x1="1267" y1="2771.7" x2="1267" y2="2849.8" stroke="#ff0000" stroke-width="2.5"/>
<line x1="1252.5" y1="2849.8" x2="1281.5" y2="2849.8" stroke="#ff0000" stroke-width="3.5"/>
<line x1="1252.5" y1="2771.7" x2="1281.5" y2="2771.7" stroke="#ff0000" stroke-width="3.5"/>
<line x1="1909" y1="2600.3" x2="1909" y2="2625.5" stroke="#ff0000" stroke-width="2.5"/>
<line x1="1894.5" y1="2625.5" x2="1923.5" y2="2625.5" stroke="#ff0000" stroke-width="3.5"/>
<line x1="1894.5" y1="2600.3" x2="1923.5" y2="2600.3" stroke="#ff0000" stroke-width="3.5"/>
<rect x="610.8" y="3209.8" width="28.5" height="28.5" fill="#ff0000" stroke="#000" stroke-width="2.8"/>
<path d="M611.5,3210.5L638.5,3237.5M638.5,3210.5L611.5,3237.5" stroke="#000" stroke-width="2.5"/>
<rect x="1252.8" y="2795.8" width="28.5" height="28.5" fill="#ff0000" stroke="#000" stroke-width="2.8"/>
<path d="M1253.5,2796.6L1280.5,2823.6M1280.5,2796.6L1253.5,2823.6" stroke="#000" stroke-width="2.5"/>
<rect x="1894.8" y="2597.4" width="28.5" height="28.5" fill="#ff0000" stroke="#000" stroke-width="2.8"/>
<path d="M1895.5,2598.1L1922.5,2625.1M1922.5,2598.1L1895.5,2625.1" stroke="#000" stroke-width="2.5"/>
<line x1="1267" y1="2880" x2="1267" y2="2962.6" stroke="#000" stroke-width="2.5"/>
<line x1="1252.5" y1="2962.6" x2="1281.5" y2="2962.6" stroke="#000" stroke-width="3.5"/>
<line x1="1252.5" y1="2880" x2="1281.5" y2="2880" stroke="#000" stroke-width="3.5"/>
<line x1="1909" y1="2701.1" x2="1909" y2="2772.9" stroke="#000" stroke-width="2.5"/>
<line x1="1894.5" y1="2772.9" x2="1923.5" y2="2772.9" stroke="#000" stroke-width="3.5"/>
<line x1="1894.5" y1="2701.1" x2="1923.5" y2="2701.1" stroke="#000" stroke-width="3.5"/>
<circle cx="625" cy="3224" r="10.5" fill="#d9d9d9" stroke="#000" stroke-width="2.5"/>
<path d="M617,3215.9L633,3232.1M633,3215.9L617,3232.1" stroke="#000" stroke-width="2.5"/>
<circle cx="1267" cy="2921" r="10.5" fill="#d9d9d9" stroke="#000" stroke-width="2.5"/>
<path d="M1259,2912.9L1275,2929M1275,2912.9L1259,2929" stroke="#000" stroke-width="2.5"/>
<circle cx="1909" cy="2735.8" r="10.5" fill="#d9d9d9" stroke="#000" stroke-width="2.5"/>
<path d="M1901,2727.7L1917,2743.8M1917,2727.7L1901,2743.8" stroke="#000" stroke-width="2.5"/>
<rect x="610.8" y="3209.8" width="28.5" height="28.5" fill="#ff0000" stroke="#000" stroke-width="2.8"/>
<path d="M611.5,3210.5L638.5,3237.5M638.5,3210.5L611.5,3237.5" stroke="#000" stroke-width="2.5"/>
<circle cx="625" cy="3224" r="10.5" fill="#d9d9d9" stroke="#000" stroke-width="2.5"/>
<path d="M617,3215.9L633,3232.1M633,3215.9L617,3232.1" stroke="#000" stroke-width="2.5"/>
<polyline points="1935,2687 1949.5,2687 1949.5,2867 1935,2867" fill="none" stroke="#0000ff" stroke-width="5"/>
<text x="1958" y="2801" font-size="42" letter-spacing="2" font-weight="bold" fill="#0000ff">**</text>
<line x1="608.5" y1="3426" x2="640.5" y2="3426" stroke="#000" stroke-width="3"/>
<circle cx="624.5" cy="3426" r="10.5" fill="#d9d9d9" stroke="#000" stroke-width="2.5"/>
<path d="M616.5,3417.9L632.5,3434.1M632.5,3417.9L616.5,3434.1" stroke="#000" stroke-width="2.5"/>
<text x="657" y="3442.5" font-size="43">M13SV1-EGFP-Neo</text>
<line x1="1084.5" y1="3426.5" x2="1116.5" y2="3426.5" stroke="#ff0000" stroke-width="3"/>
<rect x="1086.2" y="3412.2" width="28.5" height="28.5" fill="#ff0000" stroke="#000" stroke-width="2.8"/>
<text x="1132" y="3443.0" font-size="43">HS578T-Hyg</text>
<line x1="1421" y1="3426.5" x2="1453" y2="3426.5" stroke="#ff0000" stroke-width="3"/>
<rect x="1422.8" y="3412.2" width="28.5" height="28.5" fill="#ff0000" stroke="#000" stroke-width="2.8"/>
<path d="M1423.5,3413L1450.5,3440M1450.5,3413L1423.5,3440" stroke="#000" stroke-width="2.5"/>
<text x="1470" y="3443.0" font-size="43">HS578T-Hyg ZEB1-KO</text>
<line x1="479" y1="3512.5" x2="511" y2="3512.5" stroke="#9a6620" stroke-width="3"/>
<polygon points="481,3498.3 509,3498.3 495,3526" fill="#9a6620" stroke="#000" stroke-width="2.6" stroke-linejoin="miter"/>
<text x="527" y="3529.0" font-size="43">M13HS-2</text>
<line x1="769" y1="3512.5" x2="801" y2="3512.5" stroke="#9a6620" stroke-width="3"/>
<polygon points="771,3498.3 785,3498.3 785,3526" fill="#9a6620"/>
<polygon points="785,3498.3 799,3498.3 785,3526" fill="#000"/>
<polygon points="771,3498.3 799,3498.3 785,3526" fill="none" stroke="#000" stroke-width="2.6"/>
<text x="817" y="3529.0" font-size="43">M13HS-2 ZEB1-KO</text>
<line x1="1257.5" y1="3511.5" x2="1289.5" y2="3511.5" stroke="#0000ff" stroke-width="3"/>
<polygon points="1273.5,3497.5 1287.5,3511.5 1273.5,3525.5 1259.5,3511.5" fill="#0000ff" stroke="#000" stroke-width="2.8"/>
<text x="1304" y="3528.0" font-size="43">M13HS-8</text>
<line x1="1558.5" y1="3511.5" x2="1590.5" y2="3511.5" stroke="#0000ff" stroke-width="3"/>
<polygon points="1574.5,3497.5 1588.5,3511.5 1574.5,3525.5 1560.5,3511.5" fill="#0000ff" stroke="#000" stroke-width="2.8"/>
<path d="M1561,3511.5L1588,3511.5M1574.5,3498L1574.5,3525" stroke="#000" stroke-width="2.5"/>
<text x="1605" y="3528.0" font-size="43">M13HS-8 ZEB1-KO</text>
</svg></body></html>
